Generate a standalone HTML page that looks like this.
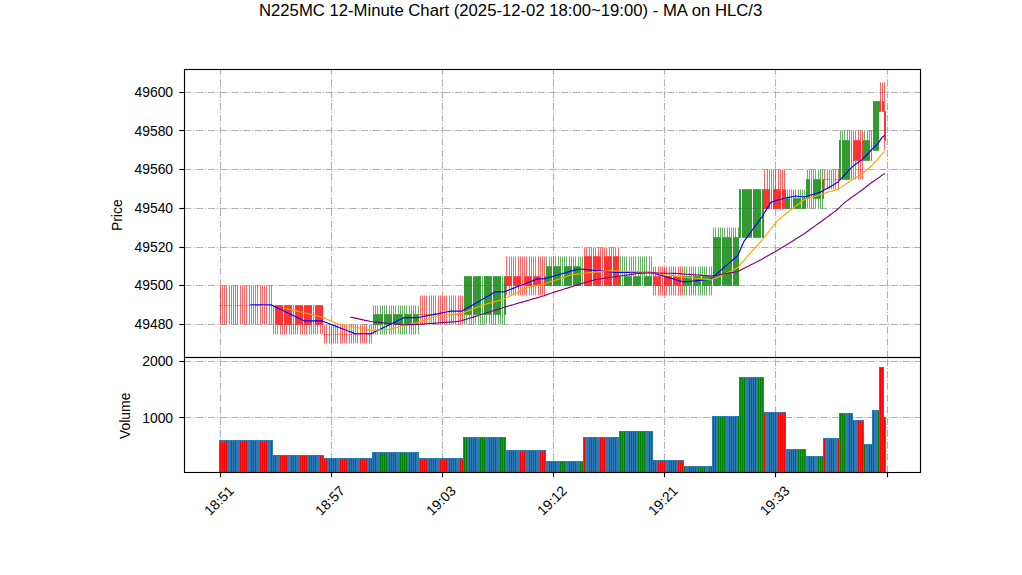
<!DOCTYPE html>
<html lang="en"><head><meta charset="utf-8"><title>N225MC 12-Minute Chart</title>
<style>html,body{margin:0;padding:0;background:#fff;overflow:hidden;font-family:"Liberation Sans",sans-serif;}svg{display:block;}</style></head>
<body><svg width="1022" height="575" viewBox="0 0 1022 575" role="img" aria-label="N225MC 12-Minute candlestick chart with moving averages and volume">
<rect width="1022" height="575" fill="#fff"/>
<line x1="184.3" y1="92.5" x2="920" y2="92.5" stroke="#b0b0b0" stroke-width="1.11" stroke-dasharray="7.111 1.778 1.111 1.778"/>
<line x1="184.3" y1="130.5" x2="920" y2="130.5" stroke="#b0b0b0" stroke-width="1.11" stroke-dasharray="7.111 1.778 1.111 1.778"/>
<line x1="184.3" y1="169.5" x2="920" y2="169.5" stroke="#b0b0b0" stroke-width="1.11" stroke-dasharray="7.111 1.778 1.111 1.778"/>
<line x1="184.3" y1="208.5" x2="920" y2="208.5" stroke="#b0b0b0" stroke-width="1.11" stroke-dasharray="7.111 1.778 1.111 1.778"/>
<line x1="184.3" y1="247.5" x2="920" y2="247.5" stroke="#b0b0b0" stroke-width="1.11" stroke-dasharray="7.111 1.778 1.111 1.778"/>
<line x1="184.3" y1="285.5" x2="920" y2="285.5" stroke="#b0b0b0" stroke-width="1.11" stroke-dasharray="7.111 1.778 1.111 1.778"/>
<line x1="184.3" y1="324.5" x2="920" y2="324.5" stroke="#b0b0b0" stroke-width="1.11" stroke-dasharray="7.111 1.778 1.111 1.778"/>
<line x1="220.5" y1="357.3" x2="220.5" y2="69.5" stroke="#b0b0b0" stroke-width="1.11" stroke-dasharray="7.111 1.778 1.111 1.778"/>
<line x1="331.5" y1="357.3" x2="331.5" y2="69.5" stroke="#b0b0b0" stroke-width="1.11" stroke-dasharray="7.111 1.778 1.111 1.778"/>
<line x1="442.5" y1="357.3" x2="442.5" y2="69.5" stroke="#b0b0b0" stroke-width="1.11" stroke-dasharray="7.111 1.778 1.111 1.778"/>
<line x1="553.5" y1="357.3" x2="553.5" y2="69.5" stroke="#b0b0b0" stroke-width="1.11" stroke-dasharray="7.111 1.778 1.111 1.778"/>
<line x1="664.5" y1="357.3" x2="664.5" y2="69.5" stroke="#b0b0b0" stroke-width="1.11" stroke-dasharray="7.111 1.778 1.111 1.778"/>
<line x1="775.5" y1="357.3" x2="775.5" y2="69.5" stroke="#b0b0b0" stroke-width="1.11" stroke-dasharray="7.111 1.778 1.111 1.778"/>
<line x1="887.5" y1="357.3" x2="887.5" y2="69.5" stroke="#b0b0b0" stroke-width="1.11" stroke-dasharray="7.111 1.778 1.111 1.778"/>
<line x1="184.3" y1="361.5" x2="920" y2="361.5" stroke="#b0b0b0" stroke-width="1.11" stroke-dasharray="7.111 1.778 1.111 1.778"/>
<line x1="184.3" y1="417.5" x2="920" y2="417.5" stroke="#b0b0b0" stroke-width="1.11" stroke-dasharray="7.111 1.778 1.111 1.778"/>
<line x1="220.5" y1="472.3" x2="220.5" y2="357.5" stroke="#b0b0b0" stroke-width="1.11" stroke-dasharray="7.111 1.778 1.111 1.778"/>
<line x1="331.5" y1="472.3" x2="331.5" y2="357.5" stroke="#b0b0b0" stroke-width="1.11" stroke-dasharray="7.111 1.778 1.111 1.778"/>
<line x1="442.5" y1="472.3" x2="442.5" y2="357.5" stroke="#b0b0b0" stroke-width="1.11" stroke-dasharray="7.111 1.778 1.111 1.778"/>
<line x1="553.5" y1="472.3" x2="553.5" y2="357.5" stroke="#b0b0b0" stroke-width="1.11" stroke-dasharray="7.111 1.778 1.111 1.778"/>
<line x1="664.5" y1="472.3" x2="664.5" y2="357.5" stroke="#b0b0b0" stroke-width="1.11" stroke-dasharray="7.111 1.778 1.111 1.778"/>
<line x1="775.5" y1="472.3" x2="775.5" y2="357.5" stroke="#b0b0b0" stroke-width="1.11" stroke-dasharray="7.111 1.778 1.111 1.778"/>
<line x1="887.5" y1="472.3" x2="887.5" y2="357.5" stroke="#b0b0b0" stroke-width="1.11" stroke-dasharray="7.111 1.778 1.111 1.778"/>
<g>
<rect x="220" y="285.50" width="1" height="39.00" fill="rgba(255,0,0,0.6)"/>
<rect x="219" y="305.15" width="2" height="0.7" fill="rgba(255,0,0,0.55)"/>
<rect x="222" y="285.50" width="1" height="39.00" fill="rgba(255,0,0,0.6)"/>
<rect x="221" y="305.15" width="2" height="0.7" fill="rgba(255,0,0,0.55)"/>
<rect x="224" y="285.50" width="1" height="39.00" fill="rgba(255,0,0,0.6)"/>
<rect x="224" y="305.15" width="2" height="0.7" fill="rgba(255,0,0,0.55)"/>
<rect x="226" y="285.50" width="1" height="39.00" fill="rgba(255,0,0,0.6)"/>
<rect x="226" y="305.15" width="2" height="0.7" fill="rgba(255,0,0,0.55)"/>
<rect x="229" y="285.50" width="1" height="39.00" fill="rgba(255,0,0,0.6)"/>
<rect x="228" y="305.15" width="2" height="0.7" fill="rgba(255,0,0,0.55)"/>
<rect x="231" y="285.50" width="1" height="39.00" fill="rgba(255,0,0,0.6)"/>
<rect x="230" y="305.15" width="2" height="0.7" fill="rgba(255,0,0,0.55)"/>
<rect x="233" y="285.50" width="1" height="39.00" fill="rgba(255,0,0,0.6)"/>
<rect x="233" y="305.15" width="1" height="0.7" fill="rgba(255,0,0,0.55)"/>
<rect x="235" y="285.50" width="1" height="39.00" fill="rgba(255,0,0,0.6)"/>
<rect x="235" y="305.15" width="2" height="0.7" fill="rgba(255,0,0,0.55)"/>
<rect x="237" y="285.50" width="1" height="39.00" fill="rgba(255,0,0,0.6)"/>
<rect x="237" y="305.15" width="2" height="0.7" fill="rgba(255,0,0,0.55)"/>
<rect x="240" y="285.50" width="1" height="39.00" fill="rgba(255,0,0,0.6)"/>
<rect x="239" y="305.15" width="2" height="0.7" fill="rgba(255,0,0,0.55)"/>
<rect x="242" y="285.50" width="1" height="39.00" fill="rgba(255,0,0,0.6)"/>
<rect x="241" y="305.15" width="2" height="0.7" fill="rgba(255,0,0,0.55)"/>
<rect x="244" y="285.50" width="1" height="39.00" fill="rgba(255,0,0,0.6)"/>
<rect x="244" y="305.15" width="2" height="0.7" fill="rgba(255,0,0,0.55)"/>
<rect x="246" y="285.50" width="1" height="39.00" fill="rgba(255,0,0,0.6)"/>
<rect x="246" y="305.15" width="2" height="0.7" fill="rgba(255,0,0,0.55)"/>
<rect x="249" y="285.50" width="1" height="39.00" fill="rgba(255,0,0,0.6)"/>
<rect x="248" y="305.15" width="2" height="0.7" fill="rgba(255,0,0,0.55)"/>
<rect x="251" y="285.50" width="1" height="39.00" fill="rgba(255,0,0,0.6)"/>
<rect x="250" y="305.15" width="2" height="0.7" fill="rgba(255,0,0,0.55)"/>
<rect x="253" y="285.50" width="1" height="39.00" fill="rgba(255,0,0,0.6)"/>
<rect x="253" y="305.15" width="1" height="0.7" fill="rgba(255,0,0,0.55)"/>
<rect x="255" y="285.50" width="1" height="39.00" fill="rgba(255,0,0,0.6)"/>
<rect x="255" y="305.15" width="2" height="0.7" fill="rgba(255,0,0,0.55)"/>
<rect x="257" y="285.50" width="1" height="39.00" fill="rgba(255,0,0,0.6)"/>
<rect x="257" y="305.15" width="2" height="0.7" fill="rgba(255,0,0,0.55)"/>
<rect x="260" y="285.50" width="1" height="39.00" fill="rgba(255,0,0,0.6)"/>
<rect x="259" y="305.15" width="2" height="0.7" fill="rgba(255,0,0,0.55)"/>
<rect x="262" y="285.50" width="1" height="39.00" fill="rgba(255,0,0,0.6)"/>
<rect x="261" y="305.15" width="2" height="0.7" fill="rgba(255,0,0,0.55)"/>
<rect x="264" y="285.50" width="1" height="39.00" fill="rgba(255,0,0,0.6)"/>
<rect x="264" y="305.15" width="2" height="0.7" fill="rgba(255,0,0,0.55)"/>
<rect x="266" y="285.50" width="1" height="39.00" fill="rgba(255,0,0,0.6)"/>
<rect x="266" y="305.15" width="2" height="0.7" fill="rgba(255,0,0,0.55)"/>
<rect x="269" y="285.50" width="1" height="39.00" fill="rgba(255,0,0,0.6)"/>
<rect x="268" y="305.15" width="2" height="0.7" fill="rgba(255,0,0,0.55)"/>
<rect x="271" y="285.50" width="1" height="39.00" fill="rgba(255,0,0,0.6)"/>
<rect x="270" y="305.15" width="2" height="0.7" fill="rgba(255,0,0,0.55)"/>
<rect x="273" y="324.85" width="1" height="9.65" fill="rgba(255,0,0,0.6)"/>
<rect x="273" y="305.15" width="1" height="19.70" fill="rgba(255,0,0,0.65)"/>
<rect x="275" y="324.85" width="1" height="9.65" fill="rgba(255,0,0,0.6)"/>
<rect x="275" y="305.15" width="2" height="19.70" fill="rgba(255,0,0,0.8)"/>
<rect x="277" y="324.85" width="1" height="9.65" fill="rgba(255,0,0,0.6)"/>
<rect x="277" y="305.15" width="2" height="19.70" fill="rgba(255,0,0,0.8)"/>
<rect x="280" y="324.85" width="1" height="9.65" fill="rgba(255,0,0,0.6)"/>
<rect x="279" y="305.15" width="2" height="19.70" fill="rgba(255,0,0,0.8)"/>
<rect x="282" y="324.85" width="1" height="9.65" fill="rgba(255,0,0,0.6)"/>
<rect x="281" y="305.15" width="2" height="19.70" fill="rgba(255,0,0,0.8)"/>
<rect x="284" y="324.85" width="1" height="9.65" fill="rgba(255,0,0,0.6)"/>
<rect x="284" y="305.15" width="2" height="19.70" fill="rgba(255,0,0,0.8)"/>
<rect x="286" y="324.85" width="1" height="9.65" fill="rgba(255,0,0,0.6)"/>
<rect x="286" y="305.15" width="2" height="19.70" fill="rgba(255,0,0,0.8)"/>
<rect x="289" y="324.85" width="1" height="9.65" fill="rgba(255,0,0,0.6)"/>
<rect x="288" y="305.15" width="2" height="19.70" fill="rgba(255,0,0,0.8)"/>
<rect x="291" y="324.85" width="1" height="9.65" fill="rgba(255,0,0,0.6)"/>
<rect x="290" y="305.15" width="2" height="19.70" fill="rgba(255,0,0,0.8)"/>
<rect x="293" y="324.85" width="1" height="9.65" fill="rgba(255,0,0,0.6)"/>
<rect x="293" y="305.15" width="1" height="19.70" fill="rgba(255,0,0,0.65)"/>
<rect x="295" y="324.85" width="1" height="9.65" fill="rgba(255,0,0,0.6)"/>
<rect x="295" y="305.15" width="2" height="19.70" fill="rgba(255,0,0,0.8)"/>
<rect x="297" y="324.85" width="1" height="9.65" fill="rgba(255,0,0,0.6)"/>
<rect x="297" y="305.15" width="2" height="19.70" fill="rgba(255,0,0,0.8)"/>
<rect x="300" y="324.85" width="1" height="9.65" fill="rgba(255,0,0,0.6)"/>
<rect x="299" y="305.15" width="2" height="19.70" fill="rgba(255,0,0,0.8)"/>
<rect x="302" y="324.85" width="1" height="9.65" fill="rgba(255,0,0,0.6)"/>
<rect x="301" y="305.15" width="2" height="19.70" fill="rgba(255,0,0,0.8)"/>
<rect x="304" y="324.85" width="1" height="9.65" fill="rgba(255,0,0,0.6)"/>
<rect x="304" y="305.15" width="2" height="19.70" fill="rgba(255,0,0,0.8)"/>
<rect x="306" y="324.85" width="1" height="9.65" fill="rgba(255,0,0,0.6)"/>
<rect x="306" y="305.15" width="2" height="19.70" fill="rgba(255,0,0,0.8)"/>
<rect x="309" y="324.85" width="1" height="9.65" fill="rgba(255,0,0,0.6)"/>
<rect x="308" y="305.15" width="2" height="19.70" fill="rgba(255,0,0,0.8)"/>
<rect x="311" y="324.85" width="1" height="9.65" fill="rgba(255,0,0,0.6)"/>
<rect x="310" y="305.15" width="2" height="19.70" fill="rgba(255,0,0,0.8)"/>
<rect x="313" y="324.85" width="1" height="9.65" fill="rgba(255,0,0,0.6)"/>
<rect x="313" y="305.15" width="1" height="19.70" fill="rgba(255,0,0,0.65)"/>
<rect x="315" y="324.85" width="1" height="9.65" fill="rgba(255,0,0,0.6)"/>
<rect x="315" y="305.15" width="2" height="19.70" fill="rgba(255,0,0,0.8)"/>
<rect x="317" y="324.85" width="1" height="9.65" fill="rgba(255,0,0,0.6)"/>
<rect x="317" y="305.15" width="2" height="19.70" fill="rgba(255,0,0,0.8)"/>
<rect x="320" y="324.85" width="1" height="9.65" fill="rgba(255,0,0,0.6)"/>
<rect x="319" y="305.15" width="2" height="19.70" fill="rgba(255,0,0,0.8)"/>
<rect x="322" y="324.85" width="1" height="9.65" fill="rgba(255,0,0,0.6)"/>
<rect x="321" y="305.15" width="2" height="19.70" fill="rgba(255,0,0,0.8)"/>
<rect x="324" y="324.50" width="1" height="19.00" fill="rgba(255,0,0,0.6)"/>
<rect x="324" y="334.15" width="2" height="0.7" fill="rgba(255,0,0,0.55)"/>
<rect x="326" y="324.50" width="1" height="19.00" fill="rgba(255,0,0,0.6)"/>
<rect x="326" y="334.15" width="2" height="0.7" fill="rgba(255,0,0,0.55)"/>
<rect x="329" y="324.50" width="1" height="19.00" fill="rgba(255,0,0,0.6)"/>
<rect x="328" y="334.15" width="2" height="0.7" fill="rgba(255,0,0,0.55)"/>
<rect x="331" y="324.50" width="1" height="19.00" fill="rgba(255,0,0,0.6)"/>
<rect x="330" y="334.15" width="2" height="0.7" fill="rgba(255,0,0,0.55)"/>
<rect x="333" y="324.50" width="1" height="19.00" fill="rgba(255,0,0,0.6)"/>
<rect x="333" y="334.15" width="1" height="0.7" fill="rgba(255,0,0,0.55)"/>
<rect x="335" y="324.50" width="1" height="19.00" fill="rgba(255,0,0,0.6)"/>
<rect x="335" y="334.15" width="2" height="0.7" fill="rgba(255,0,0,0.55)"/>
<rect x="337" y="324.50" width="1" height="19.00" fill="rgba(255,0,0,0.6)"/>
<rect x="337" y="334.15" width="2" height="0.7" fill="rgba(255,0,0,0.55)"/>
<rect x="340" y="324.50" width="1" height="19.00" fill="rgba(255,0,0,0.6)"/>
<rect x="339" y="334.15" width="2" height="0.7" fill="rgba(255,0,0,0.55)"/>
<rect x="342" y="324.50" width="1" height="19.00" fill="rgba(255,0,0,0.6)"/>
<rect x="341" y="334.15" width="2" height="0.7" fill="rgba(255,0,0,0.55)"/>
<rect x="344" y="324.50" width="1" height="19.00" fill="rgba(255,0,0,0.6)"/>
<rect x="344" y="334.15" width="2" height="0.7" fill="rgba(255,0,0,0.55)"/>
<rect x="346" y="324.50" width="1" height="19.00" fill="rgba(255,0,0,0.6)"/>
<rect x="346" y="334.15" width="2" height="0.7" fill="rgba(255,0,0,0.55)"/>
<rect x="349" y="324.50" width="1" height="19.00" fill="rgba(255,0,0,0.6)"/>
<rect x="348" y="334.15" width="2" height="0.7" fill="rgba(255,0,0,0.55)"/>
<rect x="351" y="324.50" width="1" height="19.00" fill="rgba(255,0,0,0.6)"/>
<rect x="350" y="334.15" width="2" height="0.7" fill="rgba(255,0,0,0.55)"/>
<rect x="353" y="324.50" width="1" height="19.00" fill="rgba(255,0,0,0.6)"/>
<rect x="353" y="334.15" width="2" height="0.7" fill="rgba(255,0,0,0.55)"/>
<rect x="355" y="324.50" width="1" height="19.00" fill="rgba(255,0,0,0.6)"/>
<rect x="355" y="334.15" width="2" height="0.7" fill="rgba(255,0,0,0.55)"/>
<rect x="357" y="324.50" width="1" height="19.00" fill="rgba(255,0,0,0.6)"/>
<rect x="357" y="334.15" width="2" height="0.7" fill="rgba(255,0,0,0.55)"/>
<rect x="360" y="324.50" width="1" height="19.00" fill="rgba(255,0,0,0.6)"/>
<rect x="359" y="334.15" width="2" height="0.7" fill="rgba(255,0,0,0.55)"/>
<rect x="362" y="324.50" width="1" height="19.00" fill="rgba(255,0,0,0.6)"/>
<rect x="361" y="334.15" width="2" height="0.7" fill="rgba(255,0,0,0.55)"/>
<rect x="364" y="324.50" width="1" height="19.00" fill="rgba(255,0,0,0.6)"/>
<rect x="364" y="334.15" width="2" height="0.7" fill="rgba(255,0,0,0.55)"/>
<rect x="366" y="324.50" width="1" height="19.00" fill="rgba(255,0,0,0.6)"/>
<rect x="366" y="334.15" width="2" height="0.7" fill="rgba(255,0,0,0.55)"/>
<rect x="369" y="324.50" width="1" height="19.00" fill="rgba(255,0,0,0.6)"/>
<rect x="368" y="334.15" width="2" height="0.7" fill="rgba(255,0,0,0.55)"/>
<rect x="371" y="324.50" width="1" height="19.00" fill="rgba(255,0,0,0.6)"/>
<rect x="370" y="334.15" width="2" height="0.7" fill="rgba(255,0,0,0.55)"/>
<rect x="373" y="305.50" width="1" height="8.65" fill="rgba(0,128,0,0.6)"/>
<rect x="373" y="324.85" width="1" height="9.65" fill="rgba(0,128,0,0.6)"/>
<rect x="373" y="314.15" width="2" height="10.70" fill="rgba(0,128,0,0.8)"/>
<rect x="375" y="305.50" width="1" height="8.65" fill="rgba(0,128,0,0.6)"/>
<rect x="375" y="324.85" width="1" height="9.65" fill="rgba(0,128,0,0.6)"/>
<rect x="375" y="314.15" width="2" height="10.70" fill="rgba(0,128,0,0.8)"/>
<rect x="377" y="305.50" width="1" height="8.65" fill="rgba(0,128,0,0.6)"/>
<rect x="377" y="324.85" width="1" height="9.65" fill="rgba(0,128,0,0.6)"/>
<rect x="377" y="314.15" width="2" height="10.70" fill="rgba(0,128,0,0.8)"/>
<rect x="380" y="305.50" width="1" height="8.65" fill="rgba(0,128,0,0.6)"/>
<rect x="380" y="324.85" width="1" height="9.65" fill="rgba(0,128,0,0.6)"/>
<rect x="379" y="314.15" width="2" height="10.70" fill="rgba(0,128,0,0.8)"/>
<rect x="382" y="305.50" width="1" height="8.65" fill="rgba(0,128,0,0.6)"/>
<rect x="382" y="324.85" width="1" height="9.65" fill="rgba(0,128,0,0.6)"/>
<rect x="381" y="314.15" width="2" height="10.70" fill="rgba(0,128,0,0.8)"/>
<rect x="384" y="305.50" width="1" height="8.65" fill="rgba(0,128,0,0.6)"/>
<rect x="384" y="324.85" width="1" height="9.65" fill="rgba(0,128,0,0.6)"/>
<rect x="384" y="314.15" width="2" height="10.70" fill="rgba(0,128,0,0.8)"/>
<rect x="386" y="305.50" width="1" height="8.65" fill="rgba(0,128,0,0.6)"/>
<rect x="386" y="324.85" width="1" height="9.65" fill="rgba(0,128,0,0.6)"/>
<rect x="386" y="314.15" width="2" height="10.70" fill="rgba(0,128,0,0.8)"/>
<rect x="389" y="305.50" width="1" height="8.65" fill="rgba(0,128,0,0.6)"/>
<rect x="389" y="324.85" width="1" height="9.65" fill="rgba(0,128,0,0.6)"/>
<rect x="388" y="314.15" width="2" height="10.70" fill="rgba(0,128,0,0.8)"/>
<rect x="391" y="305.50" width="1" height="8.65" fill="rgba(0,128,0,0.6)"/>
<rect x="391" y="324.85" width="1" height="9.65" fill="rgba(0,128,0,0.6)"/>
<rect x="390" y="314.15" width="2" height="10.70" fill="rgba(0,128,0,0.8)"/>
<rect x="393" y="305.50" width="1" height="8.65" fill="rgba(0,128,0,0.6)"/>
<rect x="393" y="324.85" width="1" height="9.65" fill="rgba(0,128,0,0.6)"/>
<rect x="393" y="314.15" width="2" height="10.70" fill="rgba(0,128,0,0.8)"/>
<rect x="395" y="305.50" width="1" height="8.65" fill="rgba(0,128,0,0.6)"/>
<rect x="395" y="324.85" width="1" height="9.65" fill="rgba(0,128,0,0.6)"/>
<rect x="395" y="314.15" width="2" height="10.70" fill="rgba(0,128,0,0.8)"/>
<rect x="398" y="305.50" width="1" height="8.65" fill="rgba(0,128,0,0.6)"/>
<rect x="398" y="324.85" width="1" height="9.65" fill="rgba(0,128,0,0.6)"/>
<rect x="397" y="314.15" width="2" height="10.70" fill="rgba(0,128,0,0.8)"/>
<rect x="400" y="305.50" width="1" height="8.65" fill="rgba(0,128,0,0.6)"/>
<rect x="400" y="324.85" width="1" height="9.65" fill="rgba(0,128,0,0.6)"/>
<rect x="399" y="314.15" width="2" height="10.70" fill="rgba(0,128,0,0.8)"/>
<rect x="402" y="305.50" width="1" height="8.65" fill="rgba(0,128,0,0.6)"/>
<rect x="402" y="324.85" width="1" height="9.65" fill="rgba(0,128,0,0.6)"/>
<rect x="401" y="314.15" width="2" height="10.70" fill="rgba(0,128,0,0.8)"/>
<rect x="404" y="305.50" width="1" height="8.65" fill="rgba(0,128,0,0.6)"/>
<rect x="404" y="324.85" width="1" height="9.65" fill="rgba(0,128,0,0.6)"/>
<rect x="404" y="314.15" width="2" height="10.70" fill="rgba(0,128,0,0.8)"/>
<rect x="406" y="305.50" width="1" height="8.65" fill="rgba(0,128,0,0.6)"/>
<rect x="406" y="324.85" width="1" height="9.65" fill="rgba(0,128,0,0.6)"/>
<rect x="406" y="314.15" width="2" height="10.70" fill="rgba(0,128,0,0.8)"/>
<rect x="409" y="305.50" width="1" height="8.65" fill="rgba(0,128,0,0.6)"/>
<rect x="409" y="324.85" width="1" height="9.65" fill="rgba(0,128,0,0.6)"/>
<rect x="408" y="314.15" width="2" height="10.70" fill="rgba(0,128,0,0.8)"/>
<rect x="411" y="305.50" width="1" height="8.65" fill="rgba(0,128,0,0.6)"/>
<rect x="411" y="324.85" width="1" height="9.65" fill="rgba(0,128,0,0.6)"/>
<rect x="410" y="314.15" width="2" height="10.70" fill="rgba(0,128,0,0.8)"/>
<rect x="413" y="305.50" width="1" height="8.65" fill="rgba(0,128,0,0.6)"/>
<rect x="413" y="324.85" width="1" height="9.65" fill="rgba(0,128,0,0.6)"/>
<rect x="413" y="314.15" width="2" height="10.70" fill="rgba(0,128,0,0.8)"/>
<rect x="415" y="305.50" width="1" height="8.65" fill="rgba(0,128,0,0.6)"/>
<rect x="415" y="324.85" width="1" height="9.65" fill="rgba(0,128,0,0.6)"/>
<rect x="415" y="314.15" width="2" height="10.70" fill="rgba(0,128,0,0.8)"/>
<rect x="418" y="305.50" width="1" height="8.65" fill="rgba(0,128,0,0.6)"/>
<rect x="418" y="324.85" width="1" height="9.65" fill="rgba(0,128,0,0.6)"/>
<rect x="417" y="314.15" width="2" height="10.70" fill="rgba(0,128,0,0.8)"/>
<rect x="420" y="295.50" width="1" height="29.00" fill="rgba(255,0,0,0.6)"/>
<rect x="419" y="314.15" width="2" height="0.7" fill="rgba(255,0,0,0.55)"/>
<rect x="422" y="295.50" width="1" height="29.00" fill="rgba(255,0,0,0.6)"/>
<rect x="421" y="314.15" width="2" height="0.7" fill="rgba(255,0,0,0.55)"/>
<rect x="424" y="295.50" width="1" height="29.00" fill="rgba(255,0,0,0.6)"/>
<rect x="424" y="314.15" width="2" height="0.7" fill="rgba(255,0,0,0.55)"/>
<rect x="426" y="295.50" width="1" height="29.00" fill="rgba(255,0,0,0.6)"/>
<rect x="426" y="314.15" width="2" height="0.7" fill="rgba(255,0,0,0.55)"/>
<rect x="429" y="295.50" width="1" height="29.00" fill="rgba(255,0,0,0.6)"/>
<rect x="428" y="314.15" width="2" height="0.7" fill="rgba(255,0,0,0.55)"/>
<rect x="431" y="295.50" width="1" height="29.00" fill="rgba(255,0,0,0.6)"/>
<rect x="430" y="314.15" width="2" height="0.7" fill="rgba(255,0,0,0.55)"/>
<rect x="433" y="295.50" width="1" height="29.00" fill="rgba(255,0,0,0.6)"/>
<rect x="433" y="314.15" width="2" height="0.7" fill="rgba(255,0,0,0.55)"/>
<rect x="435" y="295.50" width="1" height="29.00" fill="rgba(255,0,0,0.6)"/>
<rect x="435" y="314.15" width="2" height="0.7" fill="rgba(255,0,0,0.55)"/>
<rect x="438" y="295.50" width="1" height="29.00" fill="rgba(255,0,0,0.6)"/>
<rect x="437" y="314.15" width="2" height="0.7" fill="rgba(255,0,0,0.55)"/>
<rect x="440" y="295.50" width="1" height="29.00" fill="rgba(255,0,0,0.6)"/>
<rect x="439" y="314.15" width="2" height="0.7" fill="rgba(255,0,0,0.55)"/>
<rect x="442" y="295.50" width="1" height="29.00" fill="rgba(255,0,0,0.6)"/>
<rect x="442" y="314.15" width="1" height="0.7" fill="rgba(255,0,0,0.55)"/>
<rect x="444" y="295.50" width="1" height="29.00" fill="rgba(255,0,0,0.6)"/>
<rect x="444" y="314.15" width="2" height="0.7" fill="rgba(255,0,0,0.55)"/>
<rect x="446" y="295.50" width="1" height="29.00" fill="rgba(255,0,0,0.6)"/>
<rect x="446" y="314.15" width="2" height="0.7" fill="rgba(255,0,0,0.55)"/>
<rect x="449" y="295.50" width="1" height="29.00" fill="rgba(255,0,0,0.6)"/>
<rect x="448" y="314.15" width="2" height="0.7" fill="rgba(255,0,0,0.55)"/>
<rect x="451" y="295.50" width="1" height="29.00" fill="rgba(255,0,0,0.6)"/>
<rect x="450" y="314.15" width="2" height="0.7" fill="rgba(255,0,0,0.55)"/>
<rect x="453" y="295.50" width="1" height="29.00" fill="rgba(255,0,0,0.6)"/>
<rect x="453" y="314.15" width="2" height="0.7" fill="rgba(255,0,0,0.55)"/>
<rect x="455" y="295.50" width="1" height="29.00" fill="rgba(255,0,0,0.6)"/>
<rect x="455" y="314.15" width="2" height="0.7" fill="rgba(255,0,0,0.55)"/>
<rect x="458" y="295.50" width="1" height="29.00" fill="rgba(255,0,0,0.6)"/>
<rect x="457" y="314.15" width="2" height="0.7" fill="rgba(255,0,0,0.55)"/>
<rect x="460" y="295.50" width="1" height="29.00" fill="rgba(255,0,0,0.6)"/>
<rect x="459" y="314.15" width="2" height="0.7" fill="rgba(255,0,0,0.55)"/>
<rect x="462" y="295.50" width="1" height="29.00" fill="rgba(255,0,0,0.6)"/>
<rect x="462" y="314.15" width="1" height="0.7" fill="rgba(255,0,0,0.55)"/>
<rect x="464" y="314.85" width="1" height="9.65" fill="rgba(0,128,0,0.6)"/>
<rect x="464" y="276.15" width="2" height="38.70" fill="rgba(0,128,0,0.8)"/>
<rect x="466" y="314.85" width="1" height="9.65" fill="rgba(0,128,0,0.6)"/>
<rect x="466" y="276.15" width="2" height="38.70" fill="rgba(0,128,0,0.8)"/>
<rect x="469" y="314.85" width="1" height="9.65" fill="rgba(0,128,0,0.6)"/>
<rect x="468" y="276.15" width="2" height="38.70" fill="rgba(0,128,0,0.8)"/>
<rect x="471" y="314.85" width="1" height="9.65" fill="rgba(0,128,0,0.6)"/>
<rect x="470" y="276.15" width="2" height="38.70" fill="rgba(0,128,0,0.8)"/>
<rect x="473" y="314.85" width="1" height="9.65" fill="rgba(0,128,0,0.6)"/>
<rect x="473" y="276.15" width="2" height="38.70" fill="rgba(0,128,0,0.8)"/>
<rect x="475" y="314.85" width="1" height="9.65" fill="rgba(0,128,0,0.6)"/>
<rect x="475" y="276.15" width="2" height="38.70" fill="rgba(0,128,0,0.8)"/>
<rect x="478" y="314.85" width="1" height="9.65" fill="rgba(0,128,0,0.6)"/>
<rect x="477" y="276.15" width="2" height="38.70" fill="rgba(0,128,0,0.8)"/>
<rect x="480" y="314.85" width="1" height="9.65" fill="rgba(0,128,0,0.6)"/>
<rect x="479" y="276.15" width="2" height="38.70" fill="rgba(0,128,0,0.8)"/>
<rect x="482" y="314.85" width="1" height="9.65" fill="rgba(0,128,0,0.6)"/>
<rect x="482" y="276.15" width="1" height="38.70" fill="rgba(0,128,0,0.65)"/>
<rect x="484" y="314.85" width="1" height="9.65" fill="rgba(0,128,0,0.6)"/>
<rect x="484" y="276.15" width="2" height="38.70" fill="rgba(0,128,0,0.8)"/>
<rect x="486" y="314.85" width="1" height="9.65" fill="rgba(0,128,0,0.6)"/>
<rect x="486" y="276.15" width="2" height="38.70" fill="rgba(0,128,0,0.8)"/>
<rect x="489" y="314.85" width="1" height="9.65" fill="rgba(0,128,0,0.6)"/>
<rect x="488" y="276.15" width="2" height="38.70" fill="rgba(0,128,0,0.8)"/>
<rect x="491" y="314.85" width="1" height="9.65" fill="rgba(0,128,0,0.6)"/>
<rect x="490" y="276.15" width="2" height="38.70" fill="rgba(0,128,0,0.8)"/>
<rect x="493" y="314.85" width="1" height="9.65" fill="rgba(0,128,0,0.6)"/>
<rect x="493" y="276.15" width="2" height="38.70" fill="rgba(0,128,0,0.8)"/>
<rect x="495" y="314.85" width="1" height="9.65" fill="rgba(0,128,0,0.6)"/>
<rect x="495" y="276.15" width="2" height="38.70" fill="rgba(0,128,0,0.8)"/>
<rect x="498" y="314.85" width="1" height="9.65" fill="rgba(0,128,0,0.6)"/>
<rect x="497" y="276.15" width="2" height="38.70" fill="rgba(0,128,0,0.8)"/>
<rect x="500" y="314.85" width="1" height="9.65" fill="rgba(0,128,0,0.6)"/>
<rect x="499" y="276.15" width="2" height="38.70" fill="rgba(0,128,0,0.8)"/>
<rect x="502" y="314.85" width="1" height="9.65" fill="rgba(0,128,0,0.6)"/>
<rect x="502" y="276.15" width="1" height="38.70" fill="rgba(0,128,0,0.65)"/>
<rect x="504" y="314.85" width="1" height="9.65" fill="rgba(0,128,0,0.6)"/>
<rect x="504" y="276.15" width="2" height="38.70" fill="rgba(0,128,0,0.8)"/>
<rect x="506" y="256.50" width="1" height="19.65" fill="rgba(255,0,0,0.6)"/>
<rect x="506" y="285.85" width="1" height="9.65" fill="rgba(255,0,0,0.6)"/>
<rect x="506" y="276.15" width="2" height="9.70" fill="rgba(255,0,0,0.8)"/>
<rect x="509" y="256.50" width="1" height="19.65" fill="rgba(255,0,0,0.6)"/>
<rect x="509" y="285.85" width="1" height="9.65" fill="rgba(255,0,0,0.6)"/>
<rect x="508" y="276.15" width="2" height="9.70" fill="rgba(255,0,0,0.8)"/>
<rect x="511" y="256.50" width="1" height="19.65" fill="rgba(255,0,0,0.6)"/>
<rect x="511" y="285.85" width="1" height="9.65" fill="rgba(255,0,0,0.6)"/>
<rect x="510" y="276.15" width="2" height="9.70" fill="rgba(255,0,0,0.8)"/>
<rect x="513" y="256.50" width="1" height="19.65" fill="rgba(255,0,0,0.6)"/>
<rect x="513" y="285.85" width="1" height="9.65" fill="rgba(255,0,0,0.6)"/>
<rect x="513" y="276.15" width="2" height="9.70" fill="rgba(255,0,0,0.8)"/>
<rect x="515" y="256.50" width="1" height="19.65" fill="rgba(255,0,0,0.6)"/>
<rect x="515" y="285.85" width="1" height="9.65" fill="rgba(255,0,0,0.6)"/>
<rect x="515" y="276.15" width="2" height="9.70" fill="rgba(255,0,0,0.8)"/>
<rect x="518" y="256.50" width="1" height="19.65" fill="rgba(255,0,0,0.6)"/>
<rect x="518" y="285.85" width="1" height="9.65" fill="rgba(255,0,0,0.6)"/>
<rect x="517" y="276.15" width="2" height="9.70" fill="rgba(255,0,0,0.8)"/>
<rect x="520" y="256.50" width="1" height="19.65" fill="rgba(255,0,0,0.6)"/>
<rect x="520" y="285.85" width="1" height="9.65" fill="rgba(255,0,0,0.6)"/>
<rect x="519" y="276.15" width="2" height="9.70" fill="rgba(255,0,0,0.8)"/>
<rect x="522" y="256.50" width="1" height="19.65" fill="rgba(255,0,0,0.6)"/>
<rect x="522" y="285.85" width="1" height="9.65" fill="rgba(255,0,0,0.6)"/>
<rect x="522" y="276.15" width="1" height="9.70" fill="rgba(255,0,0,0.65)"/>
<rect x="524" y="256.50" width="1" height="19.65" fill="rgba(255,0,0,0.6)"/>
<rect x="524" y="285.85" width="1" height="9.65" fill="rgba(255,0,0,0.6)"/>
<rect x="524" y="276.15" width="2" height="9.70" fill="rgba(255,0,0,0.8)"/>
<rect x="526" y="256.50" width="1" height="19.65" fill="rgba(255,0,0,0.6)"/>
<rect x="526" y="285.85" width="1" height="9.65" fill="rgba(255,0,0,0.6)"/>
<rect x="526" y="276.15" width="2" height="9.70" fill="rgba(255,0,0,0.8)"/>
<rect x="529" y="256.50" width="1" height="19.65" fill="rgba(255,0,0,0.6)"/>
<rect x="529" y="285.85" width="1" height="9.65" fill="rgba(255,0,0,0.6)"/>
<rect x="528" y="276.15" width="2" height="9.70" fill="rgba(255,0,0,0.8)"/>
<rect x="531" y="256.50" width="1" height="19.65" fill="rgba(255,0,0,0.6)"/>
<rect x="531" y="285.85" width="1" height="9.65" fill="rgba(255,0,0,0.6)"/>
<rect x="530" y="276.15" width="2" height="9.70" fill="rgba(255,0,0,0.8)"/>
<rect x="533" y="256.50" width="1" height="19.65" fill="rgba(255,0,0,0.6)"/>
<rect x="533" y="285.85" width="1" height="9.65" fill="rgba(255,0,0,0.6)"/>
<rect x="533" y="276.15" width="2" height="9.70" fill="rgba(255,0,0,0.8)"/>
<rect x="535" y="256.50" width="1" height="19.65" fill="rgba(255,0,0,0.6)"/>
<rect x="535" y="285.85" width="1" height="9.65" fill="rgba(255,0,0,0.6)"/>
<rect x="535" y="276.15" width="2" height="9.70" fill="rgba(255,0,0,0.8)"/>
<rect x="538" y="256.50" width="1" height="19.65" fill="rgba(255,0,0,0.6)"/>
<rect x="538" y="285.85" width="1" height="9.65" fill="rgba(255,0,0,0.6)"/>
<rect x="537" y="276.15" width="2" height="9.70" fill="rgba(255,0,0,0.8)"/>
<rect x="540" y="256.50" width="1" height="19.65" fill="rgba(255,0,0,0.6)"/>
<rect x="540" y="285.85" width="1" height="9.65" fill="rgba(255,0,0,0.6)"/>
<rect x="539" y="276.15" width="2" height="9.70" fill="rgba(255,0,0,0.8)"/>
<rect x="542" y="256.50" width="1" height="19.65" fill="rgba(255,0,0,0.6)"/>
<rect x="542" y="285.85" width="1" height="9.65" fill="rgba(255,0,0,0.6)"/>
<rect x="542" y="276.15" width="1" height="9.70" fill="rgba(255,0,0,0.65)"/>
<rect x="544" y="256.50" width="1" height="19.65" fill="rgba(255,0,0,0.6)"/>
<rect x="544" y="285.85" width="1" height="9.65" fill="rgba(255,0,0,0.6)"/>
<rect x="544" y="276.15" width="2" height="9.70" fill="rgba(255,0,0,0.8)"/>
<rect x="546" y="256.50" width="1" height="9.65" fill="rgba(0,128,0,0.6)"/>
<rect x="546" y="266.15" width="2" height="19.70" fill="rgba(0,128,0,0.8)"/>
<rect x="549" y="256.50" width="1" height="9.65" fill="rgba(0,128,0,0.6)"/>
<rect x="548" y="266.15" width="2" height="19.70" fill="rgba(0,128,0,0.8)"/>
<rect x="551" y="256.50" width="1" height="9.65" fill="rgba(0,128,0,0.6)"/>
<rect x="550" y="266.15" width="2" height="19.70" fill="rgba(0,128,0,0.8)"/>
<rect x="553" y="256.50" width="1" height="9.65" fill="rgba(0,128,0,0.6)"/>
<rect x="553" y="266.15" width="2" height="19.70" fill="rgba(0,128,0,0.8)"/>
<rect x="555" y="256.50" width="1" height="9.65" fill="rgba(0,128,0,0.6)"/>
<rect x="555" y="266.15" width="2" height="19.70" fill="rgba(0,128,0,0.8)"/>
<rect x="558" y="256.50" width="1" height="9.65" fill="rgba(0,128,0,0.6)"/>
<rect x="557" y="266.15" width="2" height="19.70" fill="rgba(0,128,0,0.8)"/>
<rect x="560" y="256.50" width="1" height="9.65" fill="rgba(0,128,0,0.6)"/>
<rect x="559" y="266.15" width="2" height="19.70" fill="rgba(0,128,0,0.8)"/>
<rect x="562" y="256.50" width="1" height="9.65" fill="rgba(0,128,0,0.6)"/>
<rect x="562" y="266.15" width="1" height="19.70" fill="rgba(0,128,0,0.65)"/>
<rect x="564" y="256.50" width="1" height="9.65" fill="rgba(0,128,0,0.6)"/>
<rect x="564" y="266.15" width="2" height="19.70" fill="rgba(0,128,0,0.8)"/>
<rect x="566" y="256.50" width="1" height="9.65" fill="rgba(0,128,0,0.6)"/>
<rect x="566" y="266.15" width="2" height="19.70" fill="rgba(0,128,0,0.8)"/>
<rect x="569" y="256.50" width="1" height="9.65" fill="rgba(0,128,0,0.6)"/>
<rect x="568" y="266.15" width="2" height="19.70" fill="rgba(0,128,0,0.8)"/>
<rect x="571" y="256.50" width="1" height="9.65" fill="rgba(0,128,0,0.6)"/>
<rect x="570" y="266.15" width="2" height="19.70" fill="rgba(0,128,0,0.8)"/>
<rect x="573" y="256.50" width="1" height="9.65" fill="rgba(0,128,0,0.6)"/>
<rect x="573" y="266.15" width="2" height="19.70" fill="rgba(0,128,0,0.8)"/>
<rect x="575" y="256.50" width="1" height="9.65" fill="rgba(0,128,0,0.6)"/>
<rect x="575" y="266.15" width="2" height="19.70" fill="rgba(0,128,0,0.8)"/>
<rect x="578" y="256.50" width="1" height="9.65" fill="rgba(0,128,0,0.6)"/>
<rect x="577" y="266.15" width="2" height="19.70" fill="rgba(0,128,0,0.8)"/>
<rect x="580" y="256.50" width="1" height="9.65" fill="rgba(0,128,0,0.6)"/>
<rect x="579" y="266.15" width="2" height="19.70" fill="rgba(0,128,0,0.8)"/>
<rect x="582" y="256.50" width="1" height="9.65" fill="rgba(0,128,0,0.6)"/>
<rect x="582" y="266.15" width="1" height="19.70" fill="rgba(0,128,0,0.65)"/>
<rect x="584" y="247.50" width="1" height="8.65" fill="rgba(255,0,0,0.6)"/>
<rect x="584" y="256.15" width="2" height="29.70" fill="rgba(255,0,0,0.8)"/>
<rect x="586" y="247.50" width="1" height="8.65" fill="rgba(255,0,0,0.6)"/>
<rect x="586" y="256.15" width="2" height="29.70" fill="rgba(255,0,0,0.8)"/>
<rect x="589" y="247.50" width="1" height="8.65" fill="rgba(255,0,0,0.6)"/>
<rect x="588" y="256.15" width="2" height="29.70" fill="rgba(255,0,0,0.8)"/>
<rect x="591" y="247.50" width="1" height="8.65" fill="rgba(255,0,0,0.6)"/>
<rect x="590" y="256.15" width="2" height="29.70" fill="rgba(255,0,0,0.8)"/>
<rect x="593" y="247.50" width="1" height="8.65" fill="rgba(255,0,0,0.6)"/>
<rect x="593" y="256.15" width="2" height="29.70" fill="rgba(255,0,0,0.8)"/>
<rect x="595" y="247.50" width="1" height="8.65" fill="rgba(255,0,0,0.6)"/>
<rect x="595" y="256.15" width="2" height="29.70" fill="rgba(255,0,0,0.8)"/>
<rect x="598" y="247.50" width="1" height="8.65" fill="rgba(255,0,0,0.6)"/>
<rect x="597" y="256.15" width="2" height="29.70" fill="rgba(255,0,0,0.8)"/>
<rect x="600" y="247.50" width="1" height="8.65" fill="rgba(255,0,0,0.6)"/>
<rect x="599" y="256.15" width="2" height="29.70" fill="rgba(255,0,0,0.8)"/>
<rect x="602" y="247.50" width="1" height="8.65" fill="rgba(255,0,0,0.6)"/>
<rect x="602" y="256.15" width="1" height="29.70" fill="rgba(255,0,0,0.65)"/>
<rect x="604" y="247.50" width="1" height="8.65" fill="rgba(255,0,0,0.6)"/>
<rect x="604" y="256.15" width="2" height="29.70" fill="rgba(255,0,0,0.8)"/>
<rect x="606" y="247.50" width="1" height="8.65" fill="rgba(255,0,0,0.6)"/>
<rect x="606" y="256.15" width="2" height="29.70" fill="rgba(255,0,0,0.8)"/>
<rect x="609" y="247.50" width="1" height="8.65" fill="rgba(255,0,0,0.6)"/>
<rect x="608" y="256.15" width="2" height="29.70" fill="rgba(255,0,0,0.8)"/>
<rect x="611" y="247.50" width="1" height="8.65" fill="rgba(255,0,0,0.6)"/>
<rect x="610" y="256.15" width="2" height="29.70" fill="rgba(255,0,0,0.8)"/>
<rect x="613" y="247.50" width="1" height="8.65" fill="rgba(255,0,0,0.6)"/>
<rect x="613" y="256.15" width="2" height="29.70" fill="rgba(255,0,0,0.8)"/>
<rect x="615" y="247.50" width="1" height="8.65" fill="rgba(255,0,0,0.6)"/>
<rect x="615" y="256.15" width="2" height="29.70" fill="rgba(255,0,0,0.8)"/>
<rect x="618" y="247.50" width="1" height="8.65" fill="rgba(255,0,0,0.6)"/>
<rect x="617" y="256.15" width="2" height="29.70" fill="rgba(255,0,0,0.8)"/>
<rect x="620" y="256.50" width="1" height="19.65" fill="rgba(0,128,0,0.6)"/>
<rect x="619" y="276.15" width="2" height="9.70" fill="rgba(0,128,0,0.8)"/>
<rect x="622" y="256.50" width="1" height="19.65" fill="rgba(0,128,0,0.6)"/>
<rect x="622" y="276.15" width="1" height="9.70" fill="rgba(0,128,0,0.65)"/>
<rect x="624" y="256.50" width="1" height="19.65" fill="rgba(0,128,0,0.6)"/>
<rect x="624" y="276.15" width="2" height="9.70" fill="rgba(0,128,0,0.8)"/>
<rect x="626" y="256.50" width="1" height="19.65" fill="rgba(0,128,0,0.6)"/>
<rect x="626" y="276.15" width="2" height="9.70" fill="rgba(0,128,0,0.8)"/>
<rect x="629" y="256.50" width="1" height="19.65" fill="rgba(0,128,0,0.6)"/>
<rect x="628" y="276.15" width="2" height="9.70" fill="rgba(0,128,0,0.8)"/>
<rect x="631" y="256.50" width="1" height="19.65" fill="rgba(0,128,0,0.6)"/>
<rect x="630" y="276.15" width="2" height="9.70" fill="rgba(0,128,0,0.8)"/>
<rect x="633" y="256.50" width="1" height="19.65" fill="rgba(0,128,0,0.6)"/>
<rect x="633" y="276.15" width="2" height="9.70" fill="rgba(0,128,0,0.8)"/>
<rect x="635" y="256.50" width="1" height="19.65" fill="rgba(0,128,0,0.6)"/>
<rect x="635" y="276.15" width="2" height="9.70" fill="rgba(0,128,0,0.8)"/>
<rect x="638" y="256.50" width="1" height="19.65" fill="rgba(0,128,0,0.6)"/>
<rect x="637" y="276.15" width="2" height="9.70" fill="rgba(0,128,0,0.8)"/>
<rect x="640" y="256.50" width="1" height="19.65" fill="rgba(0,128,0,0.6)"/>
<rect x="639" y="276.15" width="2" height="9.70" fill="rgba(0,128,0,0.8)"/>
<rect x="642" y="256.50" width="1" height="19.65" fill="rgba(0,128,0,0.6)"/>
<rect x="642" y="276.15" width="1" height="9.70" fill="rgba(0,128,0,0.65)"/>
<rect x="644" y="256.50" width="1" height="19.65" fill="rgba(0,128,0,0.6)"/>
<rect x="644" y="276.15" width="2" height="9.70" fill="rgba(0,128,0,0.8)"/>
<rect x="646" y="256.50" width="1" height="19.65" fill="rgba(0,128,0,0.6)"/>
<rect x="646" y="276.15" width="2" height="9.70" fill="rgba(0,128,0,0.8)"/>
<rect x="649" y="256.50" width="1" height="19.65" fill="rgba(0,128,0,0.6)"/>
<rect x="648" y="276.15" width="2" height="9.70" fill="rgba(0,128,0,0.8)"/>
<rect x="651" y="256.50" width="1" height="19.65" fill="rgba(0,128,0,0.6)"/>
<rect x="650" y="276.15" width="2" height="9.70" fill="rgba(0,128,0,0.8)"/>
<rect x="653" y="266.50" width="1" height="9.65" fill="rgba(255,0,0,0.6)"/>
<rect x="653" y="285.85" width="1" height="9.65" fill="rgba(255,0,0,0.6)"/>
<rect x="653" y="276.15" width="2" height="9.70" fill="rgba(255,0,0,0.8)"/>
<rect x="655" y="266.50" width="1" height="9.65" fill="rgba(255,0,0,0.6)"/>
<rect x="655" y="285.85" width="1" height="9.65" fill="rgba(255,0,0,0.6)"/>
<rect x="655" y="276.15" width="2" height="9.70" fill="rgba(255,0,0,0.8)"/>
<rect x="658" y="266.50" width="1" height="9.65" fill="rgba(255,0,0,0.6)"/>
<rect x="658" y="285.85" width="1" height="9.65" fill="rgba(255,0,0,0.6)"/>
<rect x="657" y="276.15" width="2" height="9.70" fill="rgba(255,0,0,0.8)"/>
<rect x="660" y="266.50" width="1" height="9.65" fill="rgba(255,0,0,0.6)"/>
<rect x="660" y="285.85" width="1" height="9.65" fill="rgba(255,0,0,0.6)"/>
<rect x="659" y="276.15" width="2" height="9.70" fill="rgba(255,0,0,0.8)"/>
<rect x="662" y="266.50" width="1" height="9.65" fill="rgba(255,0,0,0.6)"/>
<rect x="662" y="285.85" width="1" height="9.65" fill="rgba(255,0,0,0.6)"/>
<rect x="662" y="276.15" width="1" height="9.70" fill="rgba(255,0,0,0.65)"/>
<rect x="664" y="266.50" width="1" height="9.65" fill="rgba(255,0,0,0.6)"/>
<rect x="664" y="285.85" width="1" height="9.65" fill="rgba(255,0,0,0.6)"/>
<rect x="664" y="276.15" width="2" height="9.70" fill="rgba(255,0,0,0.8)"/>
<rect x="666" y="266.50" width="1" height="9.65" fill="rgba(255,0,0,0.6)"/>
<rect x="666" y="285.85" width="1" height="9.65" fill="rgba(255,0,0,0.6)"/>
<rect x="666" y="276.15" width="2" height="9.70" fill="rgba(255,0,0,0.8)"/>
<rect x="669" y="266.50" width="1" height="9.65" fill="rgba(255,0,0,0.6)"/>
<rect x="669" y="285.85" width="1" height="9.65" fill="rgba(255,0,0,0.6)"/>
<rect x="668" y="276.15" width="2" height="9.70" fill="rgba(255,0,0,0.8)"/>
<rect x="671" y="266.50" width="1" height="9.65" fill="rgba(255,0,0,0.6)"/>
<rect x="671" y="285.85" width="1" height="9.65" fill="rgba(255,0,0,0.6)"/>
<rect x="670" y="276.15" width="2" height="9.70" fill="rgba(255,0,0,0.8)"/>
<rect x="673" y="266.50" width="1" height="9.65" fill="rgba(255,0,0,0.6)"/>
<rect x="673" y="285.85" width="1" height="9.65" fill="rgba(255,0,0,0.6)"/>
<rect x="673" y="276.15" width="2" height="9.70" fill="rgba(255,0,0,0.8)"/>
<rect x="675" y="266.50" width="1" height="9.65" fill="rgba(255,0,0,0.6)"/>
<rect x="675" y="285.85" width="1" height="9.65" fill="rgba(255,0,0,0.6)"/>
<rect x="675" y="276.15" width="2" height="9.70" fill="rgba(255,0,0,0.8)"/>
<rect x="678" y="266.50" width="1" height="9.65" fill="rgba(255,0,0,0.6)"/>
<rect x="678" y="285.85" width="1" height="9.65" fill="rgba(255,0,0,0.6)"/>
<rect x="677" y="276.15" width="2" height="9.70" fill="rgba(255,0,0,0.8)"/>
<rect x="680" y="266.50" width="1" height="9.65" fill="rgba(255,0,0,0.6)"/>
<rect x="680" y="285.85" width="1" height="9.65" fill="rgba(255,0,0,0.6)"/>
<rect x="679" y="276.15" width="2" height="9.70" fill="rgba(255,0,0,0.8)"/>
<rect x="682" y="266.50" width="1" height="9.65" fill="rgba(255,0,0,0.6)"/>
<rect x="682" y="285.85" width="1" height="9.65" fill="rgba(255,0,0,0.6)"/>
<rect x="682" y="276.15" width="2" height="9.70" fill="rgba(255,0,0,0.8)"/>
<rect x="684" y="266.50" width="1" height="9.65" fill="rgba(0,128,0,0.6)"/>
<rect x="684" y="285.85" width="1" height="9.65" fill="rgba(0,128,0,0.6)"/>
<rect x="684" y="276.15" width="2" height="9.70" fill="rgba(0,128,0,0.8)"/>
<rect x="686" y="266.50" width="1" height="9.65" fill="rgba(0,128,0,0.6)"/>
<rect x="686" y="285.85" width="1" height="9.65" fill="rgba(0,128,0,0.6)"/>
<rect x="686" y="276.15" width="2" height="9.70" fill="rgba(0,128,0,0.8)"/>
<rect x="689" y="266.50" width="1" height="9.65" fill="rgba(0,128,0,0.6)"/>
<rect x="689" y="285.85" width="1" height="9.65" fill="rgba(0,128,0,0.6)"/>
<rect x="688" y="276.15" width="2" height="9.70" fill="rgba(0,128,0,0.8)"/>
<rect x="691" y="266.50" width="1" height="9.65" fill="rgba(0,128,0,0.6)"/>
<rect x="691" y="285.85" width="1" height="9.65" fill="rgba(0,128,0,0.6)"/>
<rect x="690" y="276.15" width="2" height="9.70" fill="rgba(0,128,0,0.8)"/>
<rect x="693" y="266.50" width="1" height="9.65" fill="rgba(0,128,0,0.6)"/>
<rect x="693" y="285.85" width="1" height="9.65" fill="rgba(0,128,0,0.6)"/>
<rect x="693" y="276.15" width="2" height="9.70" fill="rgba(0,128,0,0.8)"/>
<rect x="695" y="266.50" width="1" height="9.65" fill="rgba(0,128,0,0.6)"/>
<rect x="695" y="285.85" width="1" height="9.65" fill="rgba(0,128,0,0.6)"/>
<rect x="695" y="276.15" width="2" height="9.70" fill="rgba(0,128,0,0.8)"/>
<rect x="698" y="266.50" width="1" height="9.65" fill="rgba(0,128,0,0.6)"/>
<rect x="698" y="285.85" width="1" height="9.65" fill="rgba(0,128,0,0.6)"/>
<rect x="697" y="276.15" width="2" height="9.70" fill="rgba(0,128,0,0.8)"/>
<rect x="700" y="266.50" width="1" height="9.65" fill="rgba(0,128,0,0.6)"/>
<rect x="700" y="285.85" width="1" height="9.65" fill="rgba(0,128,0,0.6)"/>
<rect x="699" y="276.15" width="2" height="9.70" fill="rgba(0,128,0,0.8)"/>
<rect x="702" y="266.50" width="1" height="9.65" fill="rgba(0,128,0,0.6)"/>
<rect x="702" y="285.85" width="1" height="9.65" fill="rgba(0,128,0,0.6)"/>
<rect x="702" y="276.15" width="2" height="9.70" fill="rgba(0,128,0,0.8)"/>
<rect x="704" y="266.50" width="1" height="9.65" fill="rgba(0,128,0,0.6)"/>
<rect x="704" y="285.85" width="1" height="9.65" fill="rgba(0,128,0,0.6)"/>
<rect x="704" y="276.15" width="2" height="9.70" fill="rgba(0,128,0,0.8)"/>
<rect x="706" y="266.50" width="1" height="9.65" fill="rgba(0,128,0,0.6)"/>
<rect x="706" y="285.85" width="1" height="9.65" fill="rgba(0,128,0,0.6)"/>
<rect x="706" y="276.15" width="2" height="9.70" fill="rgba(0,128,0,0.8)"/>
<rect x="709" y="266.50" width="1" height="9.65" fill="rgba(0,128,0,0.6)"/>
<rect x="709" y="285.85" width="1" height="9.65" fill="rgba(0,128,0,0.6)"/>
<rect x="708" y="276.15" width="2" height="9.70" fill="rgba(0,128,0,0.8)"/>
<rect x="711" y="266.50" width="1" height="9.65" fill="rgba(0,128,0,0.6)"/>
<rect x="711" y="285.85" width="1" height="9.65" fill="rgba(0,128,0,0.6)"/>
<rect x="710" y="276.15" width="2" height="9.70" fill="rgba(0,128,0,0.8)"/>
<rect x="713" y="227.50" width="1" height="9.65" fill="rgba(0,128,0,0.6)"/>
<rect x="713" y="237.15" width="2" height="48.70" fill="rgba(0,128,0,0.8)"/>
<rect x="715" y="227.50" width="1" height="9.65" fill="rgba(0,128,0,0.6)"/>
<rect x="715" y="237.15" width="2" height="48.70" fill="rgba(0,128,0,0.8)"/>
<rect x="718" y="227.50" width="1" height="9.65" fill="rgba(0,128,0,0.6)"/>
<rect x="717" y="237.15" width="2" height="48.70" fill="rgba(0,128,0,0.8)"/>
<rect x="720" y="227.50" width="1" height="9.65" fill="rgba(0,128,0,0.6)"/>
<rect x="719" y="237.15" width="2" height="48.70" fill="rgba(0,128,0,0.8)"/>
<rect x="722" y="227.50" width="1" height="9.65" fill="rgba(0,128,0,0.6)"/>
<rect x="722" y="237.15" width="2" height="48.70" fill="rgba(0,128,0,0.8)"/>
<rect x="724" y="227.50" width="1" height="9.65" fill="rgba(0,128,0,0.6)"/>
<rect x="724" y="237.15" width="2" height="48.70" fill="rgba(0,128,0,0.8)"/>
<rect x="727" y="227.50" width="1" height="9.65" fill="rgba(0,128,0,0.6)"/>
<rect x="726" y="237.15" width="2" height="48.70" fill="rgba(0,128,0,0.8)"/>
<rect x="729" y="227.50" width="1" height="9.65" fill="rgba(0,128,0,0.6)"/>
<rect x="728" y="237.15" width="2" height="48.70" fill="rgba(0,128,0,0.8)"/>
<rect x="731" y="227.50" width="1" height="9.65" fill="rgba(0,128,0,0.6)"/>
<rect x="730" y="237.15" width="2" height="48.70" fill="rgba(0,128,0,0.8)"/>
<rect x="733" y="227.50" width="1" height="9.65" fill="rgba(0,128,0,0.6)"/>
<rect x="733" y="237.15" width="2" height="48.70" fill="rgba(0,128,0,0.8)"/>
<rect x="735" y="227.50" width="1" height="9.65" fill="rgba(0,128,0,0.6)"/>
<rect x="735" y="237.15" width="2" height="48.70" fill="rgba(0,128,0,0.8)"/>
<rect x="738" y="227.50" width="1" height="9.65" fill="rgba(0,128,0,0.6)"/>
<rect x="737" y="237.15" width="2" height="48.70" fill="rgba(0,128,0,0.8)"/>
<rect x="739" y="189.15" width="2" height="48.70" fill="rgba(0,128,0,0.8)"/>
<rect x="742" y="189.15" width="2" height="48.70" fill="rgba(0,128,0,0.8)"/>
<rect x="744" y="189.15" width="2" height="48.70" fill="rgba(0,128,0,0.8)"/>
<rect x="746" y="189.15" width="2" height="48.70" fill="rgba(0,128,0,0.8)"/>
<rect x="748" y="189.15" width="2" height="48.70" fill="rgba(0,128,0,0.8)"/>
<rect x="750" y="189.15" width="2" height="48.70" fill="rgba(0,128,0,0.8)"/>
<rect x="753" y="189.15" width="2" height="48.70" fill="rgba(0,128,0,0.8)"/>
<rect x="755" y="189.15" width="2" height="48.70" fill="rgba(0,128,0,0.8)"/>
<rect x="757" y="189.15" width="2" height="48.70" fill="rgba(0,128,0,0.8)"/>
<rect x="759" y="189.15" width="2" height="48.70" fill="rgba(0,128,0,0.8)"/>
<rect x="762" y="189.15" width="2" height="48.70" fill="rgba(0,128,0,0.8)"/>
<rect x="764" y="169.50" width="1" height="19.65" fill="rgba(255,0,0,0.6)"/>
<rect x="764" y="189.15" width="2" height="19.70" fill="rgba(255,0,0,0.8)"/>
<rect x="767" y="169.50" width="1" height="19.65" fill="rgba(255,0,0,0.6)"/>
<rect x="766" y="189.15" width="2" height="19.70" fill="rgba(255,0,0,0.8)"/>
<rect x="769" y="169.50" width="1" height="19.65" fill="rgba(255,0,0,0.6)"/>
<rect x="768" y="189.15" width="2" height="19.70" fill="rgba(255,0,0,0.8)"/>
<rect x="771" y="169.50" width="1" height="19.65" fill="rgba(255,0,0,0.6)"/>
<rect x="771" y="189.15" width="1" height="19.70" fill="rgba(255,0,0,0.65)"/>
<rect x="773" y="169.50" width="1" height="19.65" fill="rgba(255,0,0,0.6)"/>
<rect x="773" y="189.15" width="2" height="19.70" fill="rgba(255,0,0,0.8)"/>
<rect x="775" y="169.50" width="1" height="19.65" fill="rgba(255,0,0,0.6)"/>
<rect x="775" y="189.15" width="2" height="19.70" fill="rgba(255,0,0,0.8)"/>
<rect x="778" y="169.50" width="1" height="19.65" fill="rgba(255,0,0,0.6)"/>
<rect x="777" y="189.15" width="2" height="19.70" fill="rgba(255,0,0,0.8)"/>
<rect x="780" y="169.50" width="1" height="19.65" fill="rgba(255,0,0,0.6)"/>
<rect x="779" y="189.15" width="2" height="19.70" fill="rgba(255,0,0,0.8)"/>
<rect x="782" y="169.50" width="1" height="19.65" fill="rgba(255,0,0,0.6)"/>
<rect x="782" y="189.15" width="2" height="19.70" fill="rgba(255,0,0,0.8)"/>
<rect x="784" y="169.50" width="1" height="19.65" fill="rgba(255,0,0,0.6)"/>
<rect x="784" y="189.15" width="2" height="19.70" fill="rgba(255,0,0,0.8)"/>
<rect x="787" y="189.50" width="1" height="8.65" fill="rgba(0,128,0,0.6)"/>
<rect x="786" y="198.15" width="2" height="10.70" fill="rgba(0,128,0,0.8)"/>
<rect x="789" y="189.50" width="1" height="8.65" fill="rgba(0,128,0,0.6)"/>
<rect x="788" y="198.15" width="2" height="10.70" fill="rgba(0,128,0,0.8)"/>
<rect x="791" y="189.50" width="1" height="8.65" fill="rgba(0,128,0,0.6)"/>
<rect x="791" y="198.15" width="1" height="10.70" fill="rgba(0,128,0,0.65)"/>
<rect x="793" y="189.50" width="1" height="8.65" fill="rgba(0,128,0,0.6)"/>
<rect x="793" y="198.15" width="2" height="10.70" fill="rgba(0,128,0,0.8)"/>
<rect x="795" y="189.50" width="1" height="8.65" fill="rgba(0,128,0,0.6)"/>
<rect x="795" y="198.15" width="2" height="10.70" fill="rgba(0,128,0,0.8)"/>
<rect x="798" y="189.50" width="1" height="8.65" fill="rgba(0,128,0,0.6)"/>
<rect x="797" y="198.15" width="2" height="10.70" fill="rgba(0,128,0,0.8)"/>
<rect x="800" y="189.50" width="1" height="8.65" fill="rgba(0,128,0,0.6)"/>
<rect x="799" y="198.15" width="2" height="10.70" fill="rgba(0,128,0,0.8)"/>
<rect x="802" y="189.50" width="1" height="8.65" fill="rgba(0,128,0,0.6)"/>
<rect x="802" y="198.15" width="2" height="10.70" fill="rgba(0,128,0,0.8)"/>
<rect x="804" y="189.50" width="1" height="8.65" fill="rgba(0,128,0,0.6)"/>
<rect x="804" y="198.15" width="2" height="10.70" fill="rgba(0,128,0,0.8)"/>
<rect x="807" y="169.50" width="1" height="9.65" fill="rgba(0,128,0,0.6)"/>
<rect x="807" y="198.85" width="1" height="9.65" fill="rgba(0,128,0,0.6)"/>
<rect x="806" y="179.15" width="2" height="19.70" fill="rgba(0,128,0,0.8)"/>
<rect x="809" y="169.50" width="1" height="9.65" fill="rgba(0,128,0,0.6)"/>
<rect x="809" y="198.85" width="1" height="9.65" fill="rgba(0,128,0,0.6)"/>
<rect x="808" y="179.15" width="2" height="19.70" fill="rgba(0,128,0,0.8)"/>
<rect x="811" y="169.50" width="1" height="9.65" fill="rgba(0,128,0,0.6)"/>
<rect x="811" y="198.85" width="1" height="9.65" fill="rgba(0,128,0,0.6)"/>
<rect x="811" y="179.15" width="1" height="19.70" fill="rgba(0,128,0,0.65)"/>
<rect x="813" y="169.50" width="1" height="9.65" fill="rgba(0,128,0,0.6)"/>
<rect x="813" y="198.85" width="1" height="9.65" fill="rgba(0,128,0,0.6)"/>
<rect x="813" y="179.15" width="2" height="19.70" fill="rgba(0,128,0,0.8)"/>
<rect x="815" y="169.50" width="1" height="9.65" fill="rgba(0,128,0,0.6)"/>
<rect x="815" y="198.85" width="1" height="9.65" fill="rgba(0,128,0,0.6)"/>
<rect x="815" y="179.15" width="2" height="19.70" fill="rgba(0,128,0,0.8)"/>
<rect x="818" y="169.50" width="1" height="9.65" fill="rgba(0,128,0,0.6)"/>
<rect x="818" y="198.85" width="1" height="9.65" fill="rgba(0,128,0,0.6)"/>
<rect x="817" y="179.15" width="2" height="19.70" fill="rgba(0,128,0,0.8)"/>
<rect x="820" y="169.50" width="1" height="9.65" fill="rgba(0,128,0,0.6)"/>
<rect x="820" y="198.85" width="1" height="9.65" fill="rgba(0,128,0,0.6)"/>
<rect x="819" y="179.15" width="2" height="19.70" fill="rgba(0,128,0,0.8)"/>
<rect x="822" y="169.50" width="1" height="9.65" fill="rgba(0,128,0,0.6)"/>
<rect x="822" y="198.85" width="1" height="9.65" fill="rgba(0,128,0,0.6)"/>
<rect x="822" y="179.15" width="2" height="19.70" fill="rgba(0,128,0,0.8)"/>
<rect x="824" y="169.50" width="1" height="20.00" fill="rgba(255,0,0,0.6)"/>
<rect x="824" y="179.15" width="2" height="0.7" fill="rgba(255,0,0,0.55)"/>
<rect x="827" y="169.50" width="1" height="20.00" fill="rgba(255,0,0,0.6)"/>
<rect x="826" y="179.15" width="2" height="0.7" fill="rgba(255,0,0,0.55)"/>
<rect x="829" y="169.50" width="1" height="20.00" fill="rgba(255,0,0,0.6)"/>
<rect x="828" y="179.15" width="2" height="0.7" fill="rgba(255,0,0,0.55)"/>
<rect x="831" y="169.50" width="1" height="20.00" fill="rgba(255,0,0,0.6)"/>
<rect x="831" y="179.15" width="1" height="0.7" fill="rgba(255,0,0,0.55)"/>
<rect x="833" y="169.50" width="1" height="20.00" fill="rgba(255,0,0,0.6)"/>
<rect x="833" y="179.15" width="2" height="0.7" fill="rgba(255,0,0,0.55)"/>
<rect x="835" y="169.50" width="1" height="20.00" fill="rgba(255,0,0,0.6)"/>
<rect x="835" y="179.15" width="2" height="0.7" fill="rgba(255,0,0,0.55)"/>
<rect x="838" y="169.50" width="1" height="20.00" fill="rgba(255,0,0,0.6)"/>
<rect x="837" y="179.15" width="2" height="0.7" fill="rgba(255,0,0,0.55)"/>
<rect x="840" y="130.50" width="1" height="9.65" fill="rgba(0,128,0,0.6)"/>
<rect x="839" y="140.15" width="2" height="39.70" fill="rgba(0,128,0,0.8)"/>
<rect x="842" y="130.50" width="1" height="9.65" fill="rgba(0,128,0,0.6)"/>
<rect x="842" y="140.15" width="2" height="39.70" fill="rgba(0,128,0,0.8)"/>
<rect x="844" y="130.50" width="1" height="9.65" fill="rgba(0,128,0,0.6)"/>
<rect x="844" y="140.15" width="2" height="39.70" fill="rgba(0,128,0,0.8)"/>
<rect x="847" y="130.50" width="1" height="9.65" fill="rgba(0,128,0,0.6)"/>
<rect x="846" y="140.15" width="2" height="39.70" fill="rgba(0,128,0,0.8)"/>
<rect x="849" y="130.50" width="1" height="9.65" fill="rgba(0,128,0,0.6)"/>
<rect x="848" y="140.15" width="2" height="39.70" fill="rgba(0,128,0,0.8)"/>
<rect x="851" y="130.50" width="1" height="9.65" fill="rgba(0,128,0,0.6)"/>
<rect x="851" y="140.15" width="1" height="39.70" fill="rgba(0,128,0,0.65)"/>
<rect x="853" y="130.50" width="1" height="9.65" fill="rgba(255,0,0,0.6)"/>
<rect x="853" y="160.85" width="1" height="18.65" fill="rgba(255,0,0,0.6)"/>
<rect x="853" y="140.15" width="2" height="20.70" fill="rgba(255,0,0,0.8)"/>
<rect x="855" y="130.50" width="1" height="9.65" fill="rgba(255,0,0,0.6)"/>
<rect x="855" y="160.85" width="1" height="18.65" fill="rgba(255,0,0,0.6)"/>
<rect x="855" y="140.15" width="2" height="20.70" fill="rgba(255,0,0,0.8)"/>
<rect x="858" y="130.50" width="1" height="9.65" fill="rgba(255,0,0,0.6)"/>
<rect x="858" y="160.85" width="1" height="18.65" fill="rgba(255,0,0,0.6)"/>
<rect x="857" y="140.15" width="2" height="20.70" fill="rgba(255,0,0,0.8)"/>
<rect x="860" y="130.50" width="1" height="9.65" fill="rgba(255,0,0,0.6)"/>
<rect x="860" y="160.85" width="1" height="18.65" fill="rgba(255,0,0,0.6)"/>
<rect x="859" y="140.15" width="2" height="20.70" fill="rgba(255,0,0,0.8)"/>
<rect x="862" y="130.50" width="1" height="9.65" fill="rgba(255,0,0,0.6)"/>
<rect x="862" y="160.85" width="1" height="18.65" fill="rgba(255,0,0,0.6)"/>
<rect x="862" y="140.15" width="2" height="20.70" fill="rgba(255,0,0,0.8)"/>
<rect x="864" y="130.50" width="1" height="9.65" fill="rgba(0,128,0,0.6)"/>
<rect x="864" y="140.15" width="2" height="20.70" fill="rgba(0,128,0,0.8)"/>
<rect x="867" y="130.50" width="1" height="9.65" fill="rgba(0,128,0,0.6)"/>
<rect x="866" y="140.15" width="2" height="20.70" fill="rgba(0,128,0,0.8)"/>
<rect x="869" y="130.50" width="1" height="9.65" fill="rgba(0,128,0,0.6)"/>
<rect x="868" y="140.15" width="2" height="20.70" fill="rgba(0,128,0,0.8)"/>
<rect x="871" y="130.50" width="1" height="9.65" fill="rgba(0,128,0,0.6)"/>
<rect x="871" y="140.15" width="1" height="20.70" fill="rgba(0,128,0,0.65)"/>
<rect x="873" y="101.15" width="2" height="49.70" fill="rgba(0,128,0,0.8)"/>
<rect x="875" y="101.15" width="2" height="49.70" fill="rgba(0,128,0,0.8)"/>
<rect x="877" y="101.15" width="2" height="49.70" fill="rgba(0,128,0,0.8)"/>
<rect x="880" y="82.50" width="1" height="18.65" fill="rgba(255,0,0,0.6)"/>
<rect x="879" y="101.15" width="2" height="10.70" fill="rgba(255,0,0,0.8)"/>
<rect x="882" y="82.50" width="1" height="18.65" fill="rgba(255,0,0,0.6)"/>
<rect x="882" y="101.15" width="2" height="10.70" fill="rgba(255,0,0,0.8)"/>
<rect x="884" y="82.50" width="1" height="28.65" fill="rgba(255,0,0,0.6)"/>
<rect x="884" y="140.85" width="1" height="9.65" fill="rgba(255,0,0,0.6)"/>
<rect x="884" y="111.15" width="2" height="29.70" fill="rgba(255,0,0,0.8)"/>
</g>
<g shape-rendering="crispEdges">
<rect x="219" y="440" width="3" height="32" fill="#2e7ab5"/>
<rect x="220" y="441" width="1" height="31" fill="rgb(255,0,0)"/>
<rect x="221" y="440" width="3" height="32" fill="#2e7ab5"/>
<rect x="222" y="441" width="1" height="31" fill="rgb(255,0,0)"/>
<rect x="223" y="440" width="3" height="32" fill="#2e7ab5"/>
<rect x="224" y="441" width="1" height="31" fill="rgb(255,0,0)"/>
<rect x="225" y="440" width="3" height="32" fill="#2e7ab5"/>
<rect x="226" y="441" width="1" height="31" fill="rgb(255,0,0)"/>
<rect x="228" y="440" width="2" height="32" fill="#2e7ab5"/>
<rect x="230" y="440" width="3" height="32" fill="#2e7ab5"/>
<rect x="231" y="441" width="1" height="31" fill="rgb(255,0,0)"/>
<rect x="232" y="440" width="3" height="32" fill="#2e7ab5"/>
<rect x="233" y="441" width="1" height="31" fill="rgb(255,0,0)"/>
<rect x="234" y="440" width="3" height="32" fill="#2e7ab5"/>
<rect x="235" y="441" width="1" height="31" fill="rgb(255,0,0)"/>
<rect x="237" y="440" width="2" height="32" fill="#2e7ab5"/>
<rect x="239" y="440" width="3" height="32" fill="#2e7ab5"/>
<rect x="240" y="441" width="1" height="31" fill="rgb(255,0,0)"/>
<rect x="241" y="440" width="3" height="32" fill="#2e7ab5"/>
<rect x="242" y="441" width="1" height="31" fill="rgb(255,0,0)"/>
<rect x="243" y="440" width="3" height="32" fill="#2e7ab5"/>
<rect x="244" y="441" width="1" height="31" fill="rgb(255,0,0)"/>
<rect x="245" y="440" width="3" height="32" fill="#2e7ab5"/>
<rect x="246" y="441" width="1" height="31" fill="rgb(255,0,0)"/>
<rect x="248" y="440" width="2" height="32" fill="#2e7ab5"/>
<rect x="250" y="440" width="3" height="32" fill="#2e7ab5"/>
<rect x="251" y="441" width="1" height="31" fill="rgb(255,0,0)"/>
<rect x="252" y="440" width="3" height="32" fill="#2e7ab5"/>
<rect x="253" y="441" width="1" height="31" fill="rgb(255,0,0)"/>
<rect x="254" y="440" width="3" height="32" fill="#2e7ab5"/>
<rect x="255" y="441" width="1" height="31" fill="rgb(255,0,0)"/>
<rect x="257" y="440" width="2" height="32" fill="#2e7ab5"/>
<rect x="259" y="440" width="3" height="32" fill="#2e7ab5"/>
<rect x="260" y="441" width="1" height="31" fill="rgb(255,0,0)"/>
<rect x="261" y="440" width="3" height="32" fill="#2e7ab5"/>
<rect x="262" y="441" width="1" height="31" fill="rgb(255,0,0)"/>
<rect x="263" y="440" width="3" height="32" fill="#2e7ab5"/>
<rect x="264" y="441" width="1" height="31" fill="rgb(255,0,0)"/>
<rect x="265" y="440" width="3" height="32" fill="#2e7ab5"/>
<rect x="266" y="441" width="1" height="31" fill="rgb(255,0,0)"/>
<rect x="268" y="440" width="2" height="32" fill="#2e7ab5"/>
<rect x="270" y="440" width="3" height="32" fill="#2e7ab5"/>
<rect x="271" y="441" width="1" height="31" fill="rgb(255,0,0)"/>
<rect x="272" y="455" width="3" height="17" fill="#2e7ab5"/>
<rect x="273" y="456" width="1" height="16" fill="rgb(255,0,0)"/>
<rect x="274" y="455" width="3" height="17" fill="#2e7ab5"/>
<rect x="275" y="456" width="1" height="16" fill="rgb(255,0,0)"/>
<rect x="277" y="455" width="2" height="17" fill="#2e7ab5"/>
<rect x="279" y="455" width="3" height="17" fill="#2e7ab5"/>
<rect x="280" y="456" width="1" height="16" fill="rgb(255,0,0)"/>
<rect x="281" y="455" width="3" height="17" fill="#2e7ab5"/>
<rect x="282" y="456" width="1" height="16" fill="rgb(255,0,0)"/>
<rect x="283" y="455" width="3" height="17" fill="#2e7ab5"/>
<rect x="284" y="456" width="1" height="16" fill="rgb(255,0,0)"/>
<rect x="285" y="455" width="3" height="17" fill="#2e7ab5"/>
<rect x="286" y="456" width="1" height="16" fill="rgb(255,0,0)"/>
<rect x="288" y="455" width="2" height="17" fill="#2e7ab5"/>
<rect x="290" y="455" width="3" height="17" fill="#2e7ab5"/>
<rect x="291" y="456" width="1" height="16" fill="rgb(255,0,0)"/>
<rect x="292" y="455" width="3" height="17" fill="#2e7ab5"/>
<rect x="293" y="456" width="1" height="16" fill="rgb(255,0,0)"/>
<rect x="294" y="455" width="3" height="17" fill="#2e7ab5"/>
<rect x="295" y="456" width="1" height="16" fill="rgb(255,0,0)"/>
<rect x="297" y="455" width="2" height="17" fill="#2e7ab5"/>
<rect x="299" y="455" width="3" height="17" fill="#2e7ab5"/>
<rect x="300" y="456" width="1" height="16" fill="rgb(255,0,0)"/>
<rect x="301" y="455" width="3" height="17" fill="#2e7ab5"/>
<rect x="302" y="456" width="1" height="16" fill="rgb(255,0,0)"/>
<rect x="303" y="455" width="3" height="17" fill="#2e7ab5"/>
<rect x="304" y="456" width="1" height="16" fill="rgb(255,0,0)"/>
<rect x="305" y="455" width="3" height="17" fill="#2e7ab5"/>
<rect x="306" y="456" width="1" height="16" fill="rgb(255,0,0)"/>
<rect x="308" y="455" width="3" height="17" fill="#2e7ab5"/>
<rect x="309" y="456" width="1" height="16" fill="rgb(255,0,0)"/>
<rect x="310" y="455" width="3" height="17" fill="#2e7ab5"/>
<rect x="311" y="456" width="1" height="16" fill="rgb(255,0,0)"/>
<rect x="312" y="455" width="3" height="17" fill="#2e7ab5"/>
<rect x="313" y="456" width="1" height="16" fill="rgb(255,0,0)"/>
<rect x="314" y="455" width="3" height="17" fill="#2e7ab5"/>
<rect x="315" y="456" width="1" height="16" fill="rgb(255,0,0)"/>
<rect x="317" y="455" width="2" height="17" fill="#2e7ab5"/>
<rect x="319" y="455" width="3" height="17" fill="#2e7ab5"/>
<rect x="320" y="456" width="1" height="16" fill="rgb(255,0,0)"/>
<rect x="321" y="455" width="3" height="17" fill="#2e7ab5"/>
<rect x="322" y="456" width="1" height="16" fill="rgb(255,0,0)"/>
<rect x="323" y="458" width="3" height="14" fill="#2e7ab5"/>
<rect x="324" y="459" width="1" height="13" fill="rgb(255,0,0)"/>
<rect x="325" y="458" width="3" height="14" fill="#2e7ab5"/>
<rect x="326" y="459" width="1" height="13" fill="rgb(255,0,0)"/>
<rect x="328" y="458" width="3" height="14" fill="#2e7ab5"/>
<rect x="329" y="459" width="1" height="13" fill="rgb(255,0,0)"/>
<rect x="330" y="458" width="3" height="14" fill="#2e7ab5"/>
<rect x="331" y="459" width="1" height="13" fill="rgb(255,0,0)"/>
<rect x="332" y="458" width="3" height="14" fill="#2e7ab5"/>
<rect x="333" y="459" width="1" height="13" fill="rgb(255,0,0)"/>
<rect x="334" y="458" width="3" height="14" fill="#2e7ab5"/>
<rect x="335" y="459" width="1" height="13" fill="rgb(255,0,0)"/>
<rect x="337" y="458" width="2" height="14" fill="#2e7ab5"/>
<rect x="339" y="458" width="3" height="14" fill="#2e7ab5"/>
<rect x="340" y="459" width="1" height="13" fill="rgb(255,0,0)"/>
<rect x="341" y="458" width="3" height="14" fill="#2e7ab5"/>
<rect x="342" y="459" width="1" height="13" fill="rgb(255,0,0)"/>
<rect x="343" y="458" width="3" height="14" fill="#2e7ab5"/>
<rect x="344" y="459" width="1" height="13" fill="rgb(255,0,0)"/>
<rect x="345" y="458" width="3" height="14" fill="#2e7ab5"/>
<rect x="346" y="459" width="1" height="13" fill="rgb(255,0,0)"/>
<rect x="348" y="458" width="3" height="14" fill="#2e7ab5"/>
<rect x="349" y="459" width="1" height="13" fill="rgb(255,0,0)"/>
<rect x="350" y="458" width="3" height="14" fill="#2e7ab5"/>
<rect x="351" y="459" width="1" height="13" fill="rgb(255,0,0)"/>
<rect x="352" y="458" width="3" height="14" fill="#2e7ab5"/>
<rect x="353" y="459" width="1" height="13" fill="rgb(255,0,0)"/>
<rect x="354" y="458" width="3" height="14" fill="#2e7ab5"/>
<rect x="355" y="459" width="1" height="13" fill="rgb(255,0,0)"/>
<rect x="357" y="458" width="2" height="14" fill="#2e7ab5"/>
<rect x="359" y="458" width="3" height="14" fill="#2e7ab5"/>
<rect x="360" y="459" width="1" height="13" fill="rgb(255,0,0)"/>
<rect x="361" y="458" width="3" height="14" fill="#2e7ab5"/>
<rect x="362" y="459" width="1" height="13" fill="rgb(255,0,0)"/>
<rect x="363" y="458" width="3" height="14" fill="#2e7ab5"/>
<rect x="364" y="459" width="1" height="13" fill="rgb(255,0,0)"/>
<rect x="365" y="458" width="3" height="14" fill="#2e7ab5"/>
<rect x="366" y="459" width="1" height="13" fill="rgb(255,0,0)"/>
<rect x="368" y="458" width="3" height="14" fill="#2e7ab5"/>
<rect x="369" y="459" width="1" height="13" fill="rgb(255,0,0)"/>
<rect x="370" y="458" width="3" height="14" fill="#2e7ab5"/>
<rect x="371" y="459" width="1" height="13" fill="rgb(255,0,0)"/>
<rect x="372" y="452" width="3" height="20" fill="#2e7ab5"/>
<rect x="373" y="453" width="1" height="19" fill="rgb(0,128,0)"/>
<rect x="374" y="452" width="3" height="20" fill="#2e7ab5"/>
<rect x="375" y="453" width="1" height="19" fill="rgb(0,128,0)"/>
<rect x="377" y="452" width="2" height="20" fill="#2e7ab5"/>
<rect x="379" y="452" width="3" height="20" fill="#2e7ab5"/>
<rect x="380" y="453" width="1" height="19" fill="rgb(0,128,0)"/>
<rect x="381" y="452" width="3" height="20" fill="#2e7ab5"/>
<rect x="382" y="453" width="1" height="19" fill="rgb(0,128,0)"/>
<rect x="383" y="452" width="3" height="20" fill="#2e7ab5"/>
<rect x="384" y="453" width="1" height="19" fill="rgb(0,128,0)"/>
<rect x="385" y="452" width="3" height="20" fill="#2e7ab5"/>
<rect x="386" y="453" width="1" height="19" fill="rgb(0,128,0)"/>
<rect x="388" y="452" width="3" height="20" fill="#2e7ab5"/>
<rect x="389" y="453" width="1" height="19" fill="rgb(0,128,0)"/>
<rect x="390" y="452" width="3" height="20" fill="#2e7ab5"/>
<rect x="391" y="453" width="1" height="19" fill="rgb(0,128,0)"/>
<rect x="392" y="452" width="3" height="20" fill="#2e7ab5"/>
<rect x="393" y="453" width="1" height="19" fill="rgb(0,128,0)"/>
<rect x="394" y="452" width="3" height="20" fill="#2e7ab5"/>
<rect x="395" y="453" width="1" height="19" fill="rgb(0,128,0)"/>
<rect x="397" y="452" width="2" height="20" fill="#2e7ab5"/>
<rect x="399" y="452" width="3" height="20" fill="#2e7ab5"/>
<rect x="400" y="453" width="1" height="19" fill="rgb(0,128,0)"/>
<rect x="401" y="452" width="3" height="20" fill="#2e7ab5"/>
<rect x="402" y="453" width="1" height="19" fill="rgb(0,128,0)"/>
<rect x="403" y="452" width="3" height="20" fill="#2e7ab5"/>
<rect x="404" y="453" width="1" height="19" fill="rgb(0,128,0)"/>
<rect x="405" y="452" width="3" height="20" fill="#2e7ab5"/>
<rect x="406" y="453" width="1" height="19" fill="rgb(0,128,0)"/>
<rect x="408" y="452" width="3" height="20" fill="#2e7ab5"/>
<rect x="409" y="453" width="1" height="19" fill="rgb(0,128,0)"/>
<rect x="410" y="452" width="3" height="20" fill="#2e7ab5"/>
<rect x="411" y="453" width="1" height="19" fill="rgb(0,128,0)"/>
<rect x="412" y="452" width="3" height="20" fill="#2e7ab5"/>
<rect x="413" y="453" width="1" height="19" fill="rgb(0,128,0)"/>
<rect x="414" y="452" width="3" height="20" fill="#2e7ab5"/>
<rect x="415" y="453" width="1" height="19" fill="rgb(0,128,0)"/>
<rect x="417" y="452" width="2" height="20" fill="#2e7ab5"/>
<rect x="419" y="458" width="3" height="14" fill="#2e7ab5"/>
<rect x="420" y="459" width="1" height="13" fill="rgb(255,0,0)"/>
<rect x="421" y="458" width="3" height="14" fill="#2e7ab5"/>
<rect x="422" y="459" width="1" height="13" fill="rgb(255,0,0)"/>
<rect x="423" y="458" width="3" height="14" fill="#2e7ab5"/>
<rect x="424" y="459" width="1" height="13" fill="rgb(255,0,0)"/>
<rect x="425" y="458" width="3" height="14" fill="#2e7ab5"/>
<rect x="426" y="459" width="1" height="13" fill="rgb(255,0,0)"/>
<rect x="428" y="458" width="3" height="14" fill="#2e7ab5"/>
<rect x="429" y="459" width="1" height="13" fill="rgb(255,0,0)"/>
<rect x="430" y="458" width="3" height="14" fill="#2e7ab5"/>
<rect x="431" y="459" width="1" height="13" fill="rgb(255,0,0)"/>
<rect x="432" y="458" width="3" height="14" fill="#2e7ab5"/>
<rect x="433" y="459" width="1" height="13" fill="rgb(255,0,0)"/>
<rect x="434" y="458" width="3" height="14" fill="#2e7ab5"/>
<rect x="435" y="459" width="1" height="13" fill="rgb(255,0,0)"/>
<rect x="437" y="458" width="2" height="14" fill="#2e7ab5"/>
<rect x="439" y="458" width="3" height="14" fill="#2e7ab5"/>
<rect x="440" y="459" width="1" height="13" fill="rgb(255,0,0)"/>
<rect x="441" y="458" width="3" height="14" fill="#2e7ab5"/>
<rect x="442" y="459" width="1" height="13" fill="rgb(255,0,0)"/>
<rect x="443" y="458" width="3" height="14" fill="#2e7ab5"/>
<rect x="444" y="459" width="1" height="13" fill="rgb(255,0,0)"/>
<rect x="445" y="458" width="3" height="14" fill="#2e7ab5"/>
<rect x="446" y="459" width="1" height="13" fill="rgb(255,0,0)"/>
<rect x="448" y="458" width="3" height="14" fill="#2e7ab5"/>
<rect x="449" y="459" width="1" height="13" fill="rgb(255,0,0)"/>
<rect x="450" y="458" width="3" height="14" fill="#2e7ab5"/>
<rect x="451" y="459" width="1" height="13" fill="rgb(255,0,0)"/>
<rect x="452" y="458" width="3" height="14" fill="#2e7ab5"/>
<rect x="453" y="459" width="1" height="13" fill="rgb(255,0,0)"/>
<rect x="454" y="458" width="3" height="14" fill="#2e7ab5"/>
<rect x="455" y="459" width="1" height="13" fill="rgb(255,0,0)"/>
<rect x="457" y="458" width="2" height="14" fill="#2e7ab5"/>
<rect x="459" y="458" width="3" height="14" fill="#2e7ab5"/>
<rect x="460" y="459" width="1" height="13" fill="rgb(255,0,0)"/>
<rect x="461" y="458" width="3" height="14" fill="#2e7ab5"/>
<rect x="462" y="459" width="1" height="13" fill="rgb(255,0,0)"/>
<rect x="463" y="437" width="3" height="35" fill="#2e7ab5"/>
<rect x="464" y="438" width="1" height="34" fill="rgb(0,128,0)"/>
<rect x="465" y="437" width="3" height="35" fill="#2e7ab5"/>
<rect x="466" y="438" width="1" height="34" fill="rgb(0,128,0)"/>
<rect x="468" y="437" width="3" height="35" fill="#2e7ab5"/>
<rect x="469" y="438" width="1" height="34" fill="rgb(0,128,0)"/>
<rect x="470" y="437" width="3" height="35" fill="#2e7ab5"/>
<rect x="471" y="438" width="1" height="34" fill="rgb(0,128,0)"/>
<rect x="472" y="437" width="3" height="35" fill="#2e7ab5"/>
<rect x="473" y="438" width="1" height="34" fill="rgb(0,128,0)"/>
<rect x="474" y="437" width="3" height="35" fill="#2e7ab5"/>
<rect x="475" y="438" width="1" height="34" fill="rgb(0,128,0)"/>
<rect x="477" y="437" width="2" height="35" fill="#2e7ab5"/>
<rect x="479" y="437" width="3" height="35" fill="#2e7ab5"/>
<rect x="480" y="438" width="1" height="34" fill="rgb(0,128,0)"/>
<rect x="481" y="437" width="3" height="35" fill="#2e7ab5"/>
<rect x="482" y="438" width="1" height="34" fill="rgb(0,128,0)"/>
<rect x="483" y="437" width="3" height="35" fill="#2e7ab5"/>
<rect x="484" y="438" width="1" height="34" fill="rgb(0,128,0)"/>
<rect x="486" y="437" width="2" height="35" fill="#2e7ab5"/>
<rect x="488" y="437" width="3" height="35" fill="#2e7ab5"/>
<rect x="489" y="438" width="1" height="34" fill="rgb(0,128,0)"/>
<rect x="490" y="437" width="3" height="35" fill="#2e7ab5"/>
<rect x="491" y="438" width="1" height="34" fill="rgb(0,128,0)"/>
<rect x="492" y="437" width="3" height="35" fill="#2e7ab5"/>
<rect x="493" y="438" width="1" height="34" fill="rgb(0,128,0)"/>
<rect x="494" y="437" width="3" height="35" fill="#2e7ab5"/>
<rect x="495" y="438" width="1" height="34" fill="rgb(0,128,0)"/>
<rect x="497" y="437" width="2" height="35" fill="#2e7ab5"/>
<rect x="499" y="437" width="3" height="35" fill="#2e7ab5"/>
<rect x="500" y="438" width="1" height="34" fill="rgb(0,128,0)"/>
<rect x="501" y="437" width="3" height="35" fill="#2e7ab5"/>
<rect x="502" y="438" width="1" height="34" fill="rgb(0,128,0)"/>
<rect x="503" y="437" width="3" height="35" fill="#2e7ab5"/>
<rect x="504" y="438" width="1" height="34" fill="rgb(0,128,0)"/>
<rect x="506" y="450" width="2" height="22" fill="#2e7ab5"/>
<rect x="508" y="450" width="3" height="22" fill="#2e7ab5"/>
<rect x="509" y="451" width="1" height="21" fill="rgb(255,0,0)"/>
<rect x="510" y="450" width="3" height="22" fill="#2e7ab5"/>
<rect x="511" y="451" width="1" height="21" fill="rgb(255,0,0)"/>
<rect x="512" y="450" width="3" height="22" fill="#2e7ab5"/>
<rect x="513" y="451" width="1" height="21" fill="rgb(255,0,0)"/>
<rect x="514" y="450" width="3" height="22" fill="#2e7ab5"/>
<rect x="515" y="451" width="1" height="21" fill="rgb(255,0,0)"/>
<rect x="517" y="450" width="2" height="22" fill="#2e7ab5"/>
<rect x="519" y="450" width="3" height="22" fill="#2e7ab5"/>
<rect x="520" y="451" width="1" height="21" fill="rgb(255,0,0)"/>
<rect x="521" y="450" width="3" height="22" fill="#2e7ab5"/>
<rect x="522" y="451" width="1" height="21" fill="rgb(255,0,0)"/>
<rect x="523" y="450" width="3" height="22" fill="#2e7ab5"/>
<rect x="524" y="451" width="1" height="21" fill="rgb(255,0,0)"/>
<rect x="526" y="450" width="2" height="22" fill="#2e7ab5"/>
<rect x="528" y="450" width="3" height="22" fill="#2e7ab5"/>
<rect x="529" y="451" width="1" height="21" fill="rgb(255,0,0)"/>
<rect x="530" y="450" width="3" height="22" fill="#2e7ab5"/>
<rect x="531" y="451" width="1" height="21" fill="rgb(255,0,0)"/>
<rect x="532" y="450" width="3" height="22" fill="#2e7ab5"/>
<rect x="533" y="451" width="1" height="21" fill="rgb(255,0,0)"/>
<rect x="534" y="450" width="3" height="22" fill="#2e7ab5"/>
<rect x="535" y="451" width="1" height="21" fill="rgb(255,0,0)"/>
<rect x="537" y="450" width="2" height="22" fill="#2e7ab5"/>
<rect x="539" y="450" width="3" height="22" fill="#2e7ab5"/>
<rect x="540" y="451" width="1" height="21" fill="rgb(255,0,0)"/>
<rect x="541" y="450" width="3" height="22" fill="#2e7ab5"/>
<rect x="542" y="451" width="1" height="21" fill="rgb(255,0,0)"/>
<rect x="543" y="450" width="3" height="22" fill="#2e7ab5"/>
<rect x="544" y="451" width="1" height="21" fill="rgb(255,0,0)"/>
<rect x="546" y="461" width="2" height="11" fill="#2e7ab5"/>
<rect x="548" y="461" width="3" height="11" fill="#2e7ab5"/>
<rect x="549" y="462" width="1" height="10" fill="rgb(0,128,0)"/>
<rect x="550" y="461" width="3" height="11" fill="#2e7ab5"/>
<rect x="551" y="462" width="1" height="10" fill="rgb(0,128,0)"/>
<rect x="552" y="461" width="3" height="11" fill="#2e7ab5"/>
<rect x="553" y="462" width="1" height="10" fill="rgb(0,128,0)"/>
<rect x="554" y="461" width="3" height="11" fill="#2e7ab5"/>
<rect x="555" y="462" width="1" height="10" fill="rgb(0,128,0)"/>
<rect x="557" y="461" width="2" height="11" fill="#2e7ab5"/>
<rect x="559" y="461" width="3" height="11" fill="#2e7ab5"/>
<rect x="560" y="462" width="1" height="10" fill="rgb(0,128,0)"/>
<rect x="561" y="461" width="3" height="11" fill="#2e7ab5"/>
<rect x="562" y="462" width="1" height="10" fill="rgb(0,128,0)"/>
<rect x="563" y="461" width="3" height="11" fill="#2e7ab5"/>
<rect x="564" y="462" width="1" height="10" fill="rgb(0,128,0)"/>
<rect x="566" y="461" width="2" height="11" fill="#2e7ab5"/>
<rect x="568" y="461" width="3" height="11" fill="#2e7ab5"/>
<rect x="569" y="462" width="1" height="10" fill="rgb(0,128,0)"/>
<rect x="570" y="461" width="3" height="11" fill="#2e7ab5"/>
<rect x="571" y="462" width="1" height="10" fill="rgb(0,128,0)"/>
<rect x="572" y="461" width="3" height="11" fill="#2e7ab5"/>
<rect x="573" y="462" width="1" height="10" fill="rgb(0,128,0)"/>
<rect x="574" y="461" width="3" height="11" fill="#2e7ab5"/>
<rect x="575" y="462" width="1" height="10" fill="rgb(0,128,0)"/>
<rect x="577" y="461" width="2" height="11" fill="#2e7ab5"/>
<rect x="579" y="461" width="3" height="11" fill="#2e7ab5"/>
<rect x="580" y="462" width="1" height="10" fill="rgb(0,128,0)"/>
<rect x="581" y="461" width="3" height="11" fill="#2e7ab5"/>
<rect x="582" y="462" width="1" height="10" fill="rgb(0,128,0)"/>
<rect x="583" y="437" width="3" height="35" fill="#2e7ab5"/>
<rect x="584" y="438" width="1" height="34" fill="rgb(255,0,0)"/>
<rect x="586" y="437" width="2" height="35" fill="#2e7ab5"/>
<rect x="588" y="437" width="3" height="35" fill="#2e7ab5"/>
<rect x="589" y="438" width="1" height="34" fill="rgb(255,0,0)"/>
<rect x="590" y="437" width="3" height="35" fill="#2e7ab5"/>
<rect x="591" y="438" width="1" height="34" fill="rgb(255,0,0)"/>
<rect x="592" y="437" width="3" height="35" fill="#2e7ab5"/>
<rect x="593" y="438" width="1" height="34" fill="rgb(255,0,0)"/>
<rect x="594" y="437" width="3" height="35" fill="#2e7ab5"/>
<rect x="595" y="438" width="1" height="34" fill="rgb(255,0,0)"/>
<rect x="597" y="437" width="2" height="35" fill="#2e7ab5"/>
<rect x="599" y="437" width="3" height="35" fill="#2e7ab5"/>
<rect x="600" y="438" width="1" height="34" fill="rgb(255,0,0)"/>
<rect x="601" y="437" width="3" height="35" fill="#2e7ab5"/>
<rect x="602" y="438" width="1" height="34" fill="rgb(255,0,0)"/>
<rect x="603" y="437" width="3" height="35" fill="#2e7ab5"/>
<rect x="604" y="438" width="1" height="34" fill="rgb(255,0,0)"/>
<rect x="606" y="437" width="2" height="35" fill="#2e7ab5"/>
<rect x="608" y="437" width="3" height="35" fill="#2e7ab5"/>
<rect x="609" y="438" width="1" height="34" fill="rgb(255,0,0)"/>
<rect x="610" y="437" width="3" height="35" fill="#2e7ab5"/>
<rect x="611" y="438" width="1" height="34" fill="rgb(255,0,0)"/>
<rect x="612" y="437" width="3" height="35" fill="#2e7ab5"/>
<rect x="613" y="438" width="1" height="34" fill="rgb(255,0,0)"/>
<rect x="614" y="437" width="3" height="35" fill="#2e7ab5"/>
<rect x="615" y="438" width="1" height="34" fill="rgb(255,0,0)"/>
<rect x="617" y="437" width="2" height="35" fill="#2e7ab5"/>
<rect x="619" y="431" width="3" height="41" fill="#2e7ab5"/>
<rect x="620" y="432" width="1" height="40" fill="rgb(0,128,0)"/>
<rect x="621" y="431" width="3" height="41" fill="#2e7ab5"/>
<rect x="622" y="432" width="1" height="40" fill="rgb(0,128,0)"/>
<rect x="623" y="431" width="3" height="41" fill="#2e7ab5"/>
<rect x="624" y="432" width="1" height="40" fill="rgb(0,128,0)"/>
<rect x="626" y="431" width="2" height="41" fill="#2e7ab5"/>
<rect x="628" y="431" width="3" height="41" fill="#2e7ab5"/>
<rect x="629" y="432" width="1" height="40" fill="rgb(0,128,0)"/>
<rect x="630" y="431" width="3" height="41" fill="#2e7ab5"/>
<rect x="631" y="432" width="1" height="40" fill="rgb(0,128,0)"/>
<rect x="632" y="431" width="3" height="41" fill="#2e7ab5"/>
<rect x="633" y="432" width="1" height="40" fill="rgb(0,128,0)"/>
<rect x="634" y="431" width="3" height="41" fill="#2e7ab5"/>
<rect x="635" y="432" width="1" height="40" fill="rgb(0,128,0)"/>
<rect x="637" y="431" width="3" height="41" fill="#2e7ab5"/>
<rect x="638" y="432" width="1" height="40" fill="rgb(0,128,0)"/>
<rect x="639" y="431" width="3" height="41" fill="#2e7ab5"/>
<rect x="640" y="432" width="1" height="40" fill="rgb(0,128,0)"/>
<rect x="641" y="431" width="3" height="41" fill="#2e7ab5"/>
<rect x="642" y="432" width="1" height="40" fill="rgb(0,128,0)"/>
<rect x="643" y="431" width="3" height="41" fill="#2e7ab5"/>
<rect x="644" y="432" width="1" height="40" fill="rgb(0,128,0)"/>
<rect x="646" y="431" width="2" height="41" fill="#2e7ab5"/>
<rect x="648" y="431" width="3" height="41" fill="#2e7ab5"/>
<rect x="649" y="432" width="1" height="40" fill="rgb(0,128,0)"/>
<rect x="650" y="431" width="3" height="41" fill="#2e7ab5"/>
<rect x="651" y="432" width="1" height="40" fill="rgb(0,128,0)"/>
<rect x="652" y="460" width="3" height="12" fill="#2e7ab5"/>
<rect x="653" y="461" width="1" height="11" fill="rgb(255,0,0)"/>
<rect x="654" y="460" width="3" height="12" fill="#2e7ab5"/>
<rect x="655" y="461" width="1" height="11" fill="rgb(255,0,0)"/>
<rect x="657" y="460" width="3" height="12" fill="#2e7ab5"/>
<rect x="658" y="461" width="1" height="11" fill="rgb(255,0,0)"/>
<rect x="659" y="460" width="3" height="12" fill="#2e7ab5"/>
<rect x="660" y="461" width="1" height="11" fill="rgb(255,0,0)"/>
<rect x="661" y="460" width="3" height="12" fill="#2e7ab5"/>
<rect x="662" y="461" width="1" height="11" fill="rgb(255,0,0)"/>
<rect x="663" y="460" width="3" height="12" fill="#2e7ab5"/>
<rect x="664" y="461" width="1" height="11" fill="rgb(255,0,0)"/>
<rect x="666" y="460" width="2" height="12" fill="#2e7ab5"/>
<rect x="668" y="460" width="3" height="12" fill="#2e7ab5"/>
<rect x="669" y="461" width="1" height="11" fill="rgb(255,0,0)"/>
<rect x="670" y="460" width="3" height="12" fill="#2e7ab5"/>
<rect x="671" y="461" width="1" height="11" fill="rgb(255,0,0)"/>
<rect x="672" y="460" width="3" height="12" fill="#2e7ab5"/>
<rect x="673" y="461" width="1" height="11" fill="rgb(255,0,0)"/>
<rect x="674" y="460" width="3" height="12" fill="#2e7ab5"/>
<rect x="675" y="461" width="1" height="11" fill="rgb(255,0,0)"/>
<rect x="677" y="460" width="3" height="12" fill="#2e7ab5"/>
<rect x="678" y="461" width="1" height="11" fill="rgb(255,0,0)"/>
<rect x="679" y="460" width="3" height="12" fill="#2e7ab5"/>
<rect x="680" y="461" width="1" height="11" fill="rgb(255,0,0)"/>
<rect x="681" y="460" width="3" height="12" fill="#2e7ab5"/>
<rect x="682" y="461" width="1" height="11" fill="rgb(255,0,0)"/>
<rect x="683" y="466" width="3" height="6" fill="#2e7ab5"/>
<rect x="684" y="467" width="1" height="5" fill="rgb(0,128,0)"/>
<rect x="686" y="466" width="2" height="6" fill="#2e7ab5"/>
<rect x="688" y="466" width="3" height="6" fill="#2e7ab5"/>
<rect x="689" y="467" width="1" height="5" fill="rgb(0,128,0)"/>
<rect x="690" y="466" width="3" height="6" fill="#2e7ab5"/>
<rect x="691" y="467" width="1" height="5" fill="rgb(0,128,0)"/>
<rect x="692" y="466" width="3" height="6" fill="#2e7ab5"/>
<rect x="693" y="467" width="1" height="5" fill="rgb(0,128,0)"/>
<rect x="694" y="466" width="3" height="6" fill="#2e7ab5"/>
<rect x="695" y="467" width="1" height="5" fill="rgb(0,128,0)"/>
<rect x="697" y="466" width="3" height="6" fill="#2e7ab5"/>
<rect x="698" y="467" width="1" height="5" fill="rgb(0,128,0)"/>
<rect x="699" y="466" width="3" height="6" fill="#2e7ab5"/>
<rect x="700" y="467" width="1" height="5" fill="rgb(0,128,0)"/>
<rect x="701" y="466" width="3" height="6" fill="#2e7ab5"/>
<rect x="702" y="467" width="1" height="5" fill="rgb(0,128,0)"/>
<rect x="703" y="466" width="3" height="6" fill="#2e7ab5"/>
<rect x="704" y="467" width="1" height="5" fill="rgb(0,128,0)"/>
<rect x="706" y="466" width="2" height="6" fill="#2e7ab5"/>
<rect x="708" y="466" width="3" height="6" fill="#2e7ab5"/>
<rect x="709" y="467" width="1" height="5" fill="rgb(0,128,0)"/>
<rect x="710" y="466" width="3" height="6" fill="#2e7ab5"/>
<rect x="711" y="467" width="1" height="5" fill="rgb(0,128,0)"/>
<rect x="712" y="416" width="3" height="56" fill="#2e7ab5"/>
<rect x="713" y="417" width="1" height="55" fill="rgb(0,128,0)"/>
<rect x="714" y="416" width="3" height="56" fill="#2e7ab5"/>
<rect x="715" y="417" width="1" height="55" fill="rgb(0,128,0)"/>
<rect x="717" y="416" width="3" height="56" fill="#2e7ab5"/>
<rect x="718" y="417" width="1" height="55" fill="rgb(0,128,0)"/>
<rect x="719" y="416" width="3" height="56" fill="#2e7ab5"/>
<rect x="720" y="417" width="1" height="55" fill="rgb(0,128,0)"/>
<rect x="721" y="416" width="3" height="56" fill="#2e7ab5"/>
<rect x="722" y="417" width="1" height="55" fill="rgb(0,128,0)"/>
<rect x="723" y="416" width="3" height="56" fill="#2e7ab5"/>
<rect x="724" y="417" width="1" height="55" fill="rgb(0,128,0)"/>
<rect x="726" y="416" width="2" height="56" fill="#2e7ab5"/>
<rect x="728" y="416" width="3" height="56" fill="#2e7ab5"/>
<rect x="729" y="417" width="1" height="55" fill="rgb(0,128,0)"/>
<rect x="730" y="416" width="3" height="56" fill="#2e7ab5"/>
<rect x="731" y="417" width="1" height="55" fill="rgb(0,128,0)"/>
<rect x="732" y="416" width="3" height="56" fill="#2e7ab5"/>
<rect x="733" y="417" width="1" height="55" fill="rgb(0,128,0)"/>
<rect x="734" y="416" width="3" height="56" fill="#2e7ab5"/>
<rect x="735" y="417" width="1" height="55" fill="rgb(0,128,0)"/>
<rect x="737" y="416" width="3" height="56" fill="#2e7ab5"/>
<rect x="738" y="417" width="1" height="55" fill="rgb(0,128,0)"/>
<rect x="739" y="377" width="3" height="95" fill="#2e7ab5"/>
<rect x="740" y="378" width="1" height="94" fill="rgb(0,128,0)"/>
<rect x="741" y="377" width="3" height="95" fill="#2e7ab5"/>
<rect x="742" y="378" width="1" height="94" fill="rgb(0,128,0)"/>
<rect x="743" y="377" width="3" height="95" fill="#2e7ab5"/>
<rect x="744" y="378" width="1" height="94" fill="rgb(0,128,0)"/>
<rect x="746" y="377" width="2" height="95" fill="#2e7ab5"/>
<rect x="748" y="377" width="3" height="95" fill="#2e7ab5"/>
<rect x="749" y="378" width="1" height="94" fill="rgb(0,128,0)"/>
<rect x="750" y="377" width="3" height="95" fill="#2e7ab5"/>
<rect x="751" y="378" width="1" height="94" fill="rgb(0,128,0)"/>
<rect x="752" y="377" width="3" height="95" fill="#2e7ab5"/>
<rect x="753" y="378" width="1" height="94" fill="rgb(0,128,0)"/>
<rect x="754" y="377" width="3" height="95" fill="#2e7ab5"/>
<rect x="755" y="378" width="1" height="94" fill="rgb(0,128,0)"/>
<rect x="757" y="377" width="3" height="95" fill="#2e7ab5"/>
<rect x="758" y="378" width="1" height="94" fill="rgb(0,128,0)"/>
<rect x="759" y="377" width="3" height="95" fill="#2e7ab5"/>
<rect x="760" y="378" width="1" height="94" fill="rgb(0,128,0)"/>
<rect x="761" y="377" width="3" height="95" fill="#2e7ab5"/>
<rect x="762" y="378" width="1" height="94" fill="rgb(0,128,0)"/>
<rect x="763" y="412" width="3" height="60" fill="#2e7ab5"/>
<rect x="764" y="413" width="1" height="59" fill="rgb(255,0,0)"/>
<rect x="766" y="412" width="2" height="60" fill="#2e7ab5"/>
<rect x="768" y="412" width="3" height="60" fill="#2e7ab5"/>
<rect x="769" y="413" width="1" height="59" fill="rgb(255,0,0)"/>
<rect x="770" y="412" width="3" height="60" fill="#2e7ab5"/>
<rect x="771" y="413" width="1" height="59" fill="rgb(255,0,0)"/>
<rect x="772" y="412" width="3" height="60" fill="#2e7ab5"/>
<rect x="773" y="413" width="1" height="59" fill="rgb(255,0,0)"/>
<rect x="774" y="412" width="3" height="60" fill="#2e7ab5"/>
<rect x="775" y="413" width="1" height="59" fill="rgb(255,0,0)"/>
<rect x="777" y="412" width="3" height="60" fill="#2e7ab5"/>
<rect x="778" y="413" width="1" height="59" fill="rgb(255,0,0)"/>
<rect x="779" y="412" width="3" height="60" fill="#2e7ab5"/>
<rect x="780" y="413" width="1" height="59" fill="rgb(255,0,0)"/>
<rect x="781" y="412" width="3" height="60" fill="#2e7ab5"/>
<rect x="782" y="413" width="1" height="59" fill="rgb(255,0,0)"/>
<rect x="783" y="412" width="3" height="60" fill="#2e7ab5"/>
<rect x="784" y="413" width="1" height="59" fill="rgb(255,0,0)"/>
<rect x="786" y="449" width="2" height="23" fill="#2e7ab5"/>
<rect x="788" y="449" width="3" height="23" fill="#2e7ab5"/>
<rect x="789" y="450" width="1" height="22" fill="rgb(0,128,0)"/>
<rect x="790" y="449" width="3" height="23" fill="#2e7ab5"/>
<rect x="791" y="450" width="1" height="22" fill="rgb(0,128,0)"/>
<rect x="792" y="449" width="3" height="23" fill="#2e7ab5"/>
<rect x="793" y="450" width="1" height="22" fill="rgb(0,128,0)"/>
<rect x="794" y="449" width="3" height="23" fill="#2e7ab5"/>
<rect x="795" y="450" width="1" height="22" fill="rgb(0,128,0)"/>
<rect x="797" y="449" width="3" height="23" fill="#2e7ab5"/>
<rect x="798" y="450" width="1" height="22" fill="rgb(0,128,0)"/>
<rect x="799" y="449" width="3" height="23" fill="#2e7ab5"/>
<rect x="800" y="450" width="1" height="22" fill="rgb(0,128,0)"/>
<rect x="801" y="449" width="3" height="23" fill="#2e7ab5"/>
<rect x="802" y="450" width="1" height="22" fill="rgb(0,128,0)"/>
<rect x="803" y="449" width="3" height="23" fill="#2e7ab5"/>
<rect x="804" y="450" width="1" height="22" fill="rgb(0,128,0)"/>
<rect x="806" y="456" width="2" height="16" fill="#2e7ab5"/>
<rect x="808" y="456" width="3" height="16" fill="#2e7ab5"/>
<rect x="809" y="457" width="1" height="15" fill="rgb(0,128,0)"/>
<rect x="810" y="456" width="3" height="16" fill="#2e7ab5"/>
<rect x="811" y="457" width="1" height="15" fill="rgb(0,128,0)"/>
<rect x="812" y="456" width="3" height="16" fill="#2e7ab5"/>
<rect x="813" y="457" width="1" height="15" fill="rgb(0,128,0)"/>
<rect x="815" y="456" width="2" height="16" fill="#2e7ab5"/>
<rect x="817" y="456" width="3" height="16" fill="#2e7ab5"/>
<rect x="818" y="457" width="1" height="15" fill="rgb(0,128,0)"/>
<rect x="819" y="456" width="3" height="16" fill="#2e7ab5"/>
<rect x="820" y="457" width="1" height="15" fill="rgb(0,128,0)"/>
<rect x="821" y="456" width="3" height="16" fill="#2e7ab5"/>
<rect x="822" y="457" width="1" height="15" fill="rgb(0,128,0)"/>
<rect x="823" y="438" width="3" height="34" fill="#2e7ab5"/>
<rect x="824" y="439" width="1" height="33" fill="rgb(255,0,0)"/>
<rect x="826" y="438" width="2" height="34" fill="#2e7ab5"/>
<rect x="828" y="438" width="3" height="34" fill="#2e7ab5"/>
<rect x="829" y="439" width="1" height="33" fill="rgb(255,0,0)"/>
<rect x="830" y="438" width="3" height="34" fill="#2e7ab5"/>
<rect x="831" y="439" width="1" height="33" fill="rgb(255,0,0)"/>
<rect x="832" y="438" width="3" height="34" fill="#2e7ab5"/>
<rect x="833" y="439" width="1" height="33" fill="rgb(255,0,0)"/>
<rect x="835" y="438" width="2" height="34" fill="#2e7ab5"/>
<rect x="837" y="438" width="3" height="34" fill="#2e7ab5"/>
<rect x="838" y="439" width="1" height="33" fill="rgb(255,0,0)"/>
<rect x="839" y="413" width="3" height="59" fill="#2e7ab5"/>
<rect x="840" y="414" width="1" height="58" fill="rgb(0,128,0)"/>
<rect x="841" y="413" width="3" height="59" fill="#2e7ab5"/>
<rect x="842" y="414" width="1" height="58" fill="rgb(0,128,0)"/>
<rect x="843" y="413" width="3" height="59" fill="#2e7ab5"/>
<rect x="844" y="414" width="1" height="58" fill="rgb(0,128,0)"/>
<rect x="846" y="413" width="2" height="59" fill="#2e7ab5"/>
<rect x="848" y="413" width="3" height="59" fill="#2e7ab5"/>
<rect x="849" y="414" width="1" height="58" fill="rgb(0,128,0)"/>
<rect x="850" y="413" width="3" height="59" fill="#2e7ab5"/>
<rect x="851" y="414" width="1" height="58" fill="rgb(0,128,0)"/>
<rect x="852" y="420" width="3" height="52" fill="#2e7ab5"/>
<rect x="853" y="421" width="1" height="51" fill="rgb(255,0,0)"/>
<rect x="855" y="420" width="2" height="52" fill="#2e7ab5"/>
<rect x="857" y="420" width="3" height="52" fill="#2e7ab5"/>
<rect x="858" y="421" width="1" height="51" fill="rgb(255,0,0)"/>
<rect x="859" y="420" width="3" height="52" fill="#2e7ab5"/>
<rect x="860" y="421" width="1" height="51" fill="rgb(255,0,0)"/>
<rect x="861" y="420" width="3" height="52" fill="#2e7ab5"/>
<rect x="862" y="421" width="1" height="51" fill="rgb(255,0,0)"/>
<rect x="863" y="444" width="3" height="28" fill="#2e7ab5"/>
<rect x="864" y="445" width="1" height="27" fill="rgb(0,128,0)"/>
<rect x="866" y="444" width="2" height="28" fill="#2e7ab5"/>
<rect x="868" y="444" width="3" height="28" fill="#2e7ab5"/>
<rect x="869" y="445" width="1" height="27" fill="rgb(0,128,0)"/>
<rect x="870" y="444" width="3" height="28" fill="#2e7ab5"/>
<rect x="871" y="445" width="1" height="27" fill="rgb(0,128,0)"/>
<rect x="872" y="410" width="3" height="62" fill="#2e7ab5"/>
<rect x="873" y="411" width="1" height="61" fill="rgb(0,128,0)"/>
<rect x="875" y="410" width="2" height="62" fill="#2e7ab5"/>
<rect x="877" y="410" width="3" height="62" fill="#2e7ab5"/>
<rect x="878" y="411" width="1" height="61" fill="rgb(0,128,0)"/>
<rect x="879" y="367" width="3" height="105" fill="#2e7ab5"/>
<rect x="880" y="368" width="1" height="104" fill="rgb(255,0,0)"/>
<rect x="881" y="367" width="3" height="105" fill="#2e7ab5"/>
<rect x="882" y="368" width="1" height="104" fill="rgb(255,0,0)"/>
<rect x="883" y="417" width="3" height="55" fill="#2e7ab5"/>
<rect x="884" y="418" width="1" height="54" fill="rgb(255,0,0)"/>
</g>
<polyline points="250.79,304.71 253.01,304.71 255.23,304.71 257.46,304.71 259.68,304.71 261.90,304.71 264.13,304.71 266.35,304.71 268.57,304.71 270.79,304.71 273.02,305.79 275.24,306.86 277.46,307.94 279.69,309.01 281.91,310.09 284.13,311.17 286.36,312.24 288.58,313.32 290.80,314.39 293.02,315.47 295.25,316.54 297.47,317.62 299.69,318.69 301.92,319.77 304.14,320.85 306.36,320.85 308.59,320.85 310.81,320.85 313.03,320.85 315.25,320.85 317.48,320.85 319.70,320.85 321.92,320.85 324.15,321.71 326.37,322.57 328.59,323.43 330.82,324.29 333.04,325.15 335.26,326.01 337.48,326.87 339.71,327.73 341.93,328.59 344.15,329.45 346.38,330.31 348.60,331.17 350.82,332.03 353.04,332.89 355.27,333.75 357.49,333.75 359.71,333.75 361.94,333.75 364.16,333.75 366.38,333.75 368.61,333.75 370.83,333.75 373.05,332.68 375.27,331.60 377.50,330.53 379.72,329.45 381.94,328.37 384.17,327.30 386.39,326.22 388.61,325.15 390.84,324.07 393.06,323.00 395.28,321.92 397.50,320.85 399.73,319.77 401.95,318.69 404.17,317.62 406.40,317.62 408.62,317.62 410.84,317.62 413.06,317.62 415.29,317.62 417.51,317.62 419.73,317.19 421.96,316.76 424.18,316.33 426.40,315.90 428.63,315.47 430.85,315.04 433.07,314.61 435.29,314.18 437.52,313.75 439.74,313.32 441.96,312.89 444.19,312.46 446.41,312.03 448.63,311.60 450.86,311.17 453.08,311.17 455.30,311.17 457.52,311.17 459.75,311.17 461.97,311.17 464.19,309.87 466.42,308.58 468.64,307.29 470.86,306.00 473.09,304.71 475.31,303.42 477.53,302.13 479.75,300.84 481.98,299.55 484.20,298.26 486.42,296.97 488.65,295.68 490.87,294.39 493.09,293.10 495.31,291.80 497.54,291.80 499.76,291.80 501.98,291.80 504.21,291.80 506.43,290.94 508.65,290.08 510.88,289.22 513.10,288.36 515.32,287.50 517.54,286.64 519.77,285.78 521.99,284.92 524.21,284.06 526.44,283.20 528.66,282.34 530.88,281.48 533.11,280.62 535.33,279.76 537.55,278.90 539.77,278.90 542.00,278.90 544.22,278.90 546.44,278.25 548.67,277.61 550.89,276.96 553.11,276.32 555.33,275.67 557.56,275.03 559.78,274.38 562.00,273.74 564.23,273.09 566.45,272.44 568.67,271.80 570.90,271.15 573.12,270.51 575.34,269.86 577.56,269.22 579.79,269.22 582.01,269.22 584.23,269.43 586.46,269.65 588.68,269.86 590.90,270.08 593.13,270.29 595.35,270.51 597.57,270.72 599.79,270.94 602.02,271.15 604.24,271.37 606.46,271.58 608.69,271.80 610.91,272.01 613.13,272.23 615.36,272.44 617.58,272.44 619.80,272.44 622.02,272.44 624.25,272.44 626.47,272.44 628.69,272.44 630.92,272.44 633.14,272.44 635.36,272.44 637.58,272.44 639.81,272.44 642.03,272.44 644.25,272.44 646.48,272.44 648.70,272.44 650.92,272.44 653.15,273.09 655.37,273.74 657.59,274.38 659.81,275.03 662.04,275.67 664.26,276.32 666.48,276.96 668.71,277.61 670.93,278.25 673.15,278.90 675.38,279.54 677.60,280.19 679.82,280.83 682.04,281.48 684.27,281.91 686.49,281.69 688.71,281.48 690.94,281.26 693.16,281.05 695.38,280.83 697.60,280.62 699.83,280.40 702.05,280.19 704.27,279.97 706.50,279.76 708.72,279.54 710.94,279.33 713.17,277.18 715.39,275.03 717.61,273.09 719.83,271.15 722.06,269.22 724.28,267.28 726.50,265.35 728.73,263.41 730.95,261.47 733.17,259.54 735.40,257.60 737.62,255.67 739.84,250.72 742.06,245.77 744.29,240.82 746.51,237.81 748.73,234.80 750.96,231.79 753.18,228.78 755.40,225.76 757.62,222.75 759.85,219.74 762.07,216.73 764.29,213.07 766.52,209.42 768.74,205.76 770.96,202.10 773.19,201.46 775.41,200.81 777.63,200.17 779.85,199.52 782.08,198.88 784.30,198.23 786.52,197.80 788.75,197.37 790.97,196.94 793.19,196.51 795.42,196.08 797.64,196.29 799.86,196.51 802.08,196.72 804.31,196.94 806.53,196.29 808.75,195.65 810.98,195.00 813.20,194.36 815.42,193.71 817.65,193.07 819.87,192.21 822.09,191.35 824.31,190.06 826.54,188.76 828.76,187.47 830.98,186.18 833.21,184.89 835.43,183.60 837.65,182.31 839.87,179.95 842.10,177.58 844.32,175.21 846.54,172.85 848.77,170.48 850.99,168.11 853.21,166.18 855.44,164.24 857.66,162.74 859.88,161.23 862.10,159.72 864.33,157.36 866.55,154.99 868.77,152.63 871.00,150.26 873.22,148.11 875.44,145.96 877.67,143.81 879.89,140.58 882.11,137.35 884.33,135.63" fill="none" stroke="#0000ff" stroke-width="1.15" stroke-linejoin="round" stroke-linecap="square"/>
<polyline points="284.13,307.94 286.36,308.48 288.58,309.01 290.80,309.55 293.02,310.09 295.25,310.63 297.47,311.17 299.69,311.70 301.92,312.24 304.14,312.78 306.36,313.32 308.59,313.85 310.81,314.39 313.03,314.93 315.25,315.47 317.48,316.01 319.70,316.54 321.92,317.08 324.15,318.05 326.37,319.02 328.59,319.98 330.82,320.95 333.04,321.92 335.26,322.89 337.48,323.86 339.71,324.29 341.93,324.72 344.15,325.15 346.38,325.58 348.60,326.01 350.82,326.44 353.04,326.87 355.27,327.30 357.49,327.73 359.71,328.16 361.94,328.59 364.16,329.02 366.38,329.45 368.61,329.88 370.83,330.31 373.05,330.20 375.27,330.10 377.50,329.99 379.72,329.88 381.94,329.77 384.17,329.66 386.39,329.56 388.61,329.45 390.84,328.91 393.06,328.37 395.28,327.84 397.50,327.30 399.73,326.76 401.95,326.22 404.17,325.69 406.40,325.15 408.62,324.61 410.84,324.07 413.06,323.53 415.29,323.00 417.51,322.46 419.73,321.71 421.96,320.95 424.18,320.20 426.40,319.45 428.63,318.69 430.85,317.94 433.07,317.19 435.29,316.44 437.52,315.68 439.74,315.47 441.96,315.25 444.19,315.04 446.41,314.82 448.63,314.61 450.86,314.39 453.08,314.18 455.30,313.96 457.52,313.75 459.75,313.53 461.97,313.32 464.19,312.46 466.42,311.60 468.64,310.73 470.86,309.87 473.09,309.01 475.31,308.15 477.53,307.29 479.75,306.43 481.98,305.57 484.20,304.71 486.42,304.07 488.65,303.42 490.87,302.78 493.09,302.13 495.31,301.48 497.54,300.84 499.76,300.19 501.98,299.55 504.21,298.90 506.43,297.83 508.65,296.75 510.88,295.68 513.10,294.60 515.32,293.53 517.54,292.45 519.77,291.37 521.99,290.30 524.21,289.22 526.44,288.15 528.66,287.07 530.88,286.64 533.11,286.21 535.33,285.78 537.55,285.35 539.77,284.92 542.00,284.49 544.22,284.06 546.44,283.31 548.67,282.55 550.89,281.80 553.11,281.05 555.33,280.30 557.56,279.54 559.78,278.79 562.00,278.04 564.23,277.28 566.45,276.53 568.67,275.78 570.90,275.03 573.12,274.70 575.34,274.38 577.56,274.06 579.79,273.74 582.01,273.41 584.23,273.20 586.46,272.98 588.68,272.77 590.90,272.55 593.13,272.34 595.35,272.12 597.57,271.91 599.79,271.69 602.02,271.48 604.24,271.26 606.46,271.05 608.69,270.83 610.91,270.62 613.13,270.72 615.36,270.83 617.58,270.94 619.80,271.05 622.02,271.15 624.25,271.26 626.47,271.37 628.69,271.48 630.92,271.58 633.14,271.69 635.36,271.80 637.58,271.91 639.81,272.01 642.03,272.12 644.25,272.23 646.48,272.34 648.70,272.44 650.92,272.44 653.15,272.77 655.37,273.09 657.59,273.41 659.81,273.74 662.04,274.06 664.26,274.38 666.48,274.70 668.71,275.03 670.93,275.35 673.15,275.67 675.38,275.99 677.60,276.32 679.82,276.64 682.04,276.96 684.27,277.18 686.49,277.39 688.71,277.61 690.94,277.82 693.16,278.04 695.38,278.25 697.60,278.47 699.83,278.68 702.05,278.90 704.27,279.11 706.50,279.33 708.72,279.54 710.94,279.76 713.17,279.01 715.39,278.25 717.61,277.50 719.83,276.42 722.06,275.35 724.28,274.27 726.50,273.20 728.73,272.12 730.95,271.05 733.17,269.97 735.40,268.90 737.62,267.82 739.84,265.24 742.06,262.66 744.29,260.08 746.51,257.49 748.73,254.91 750.96,252.44 753.18,249.97 755.40,247.49 757.62,245.02 759.85,242.54 762.07,240.07 764.29,237.27 766.52,234.48 768.74,231.68 770.96,228.88 773.19,226.09 775.41,223.29 777.63,220.49 779.85,218.67 782.08,216.84 784.30,215.01 786.52,213.29 788.75,211.57 790.97,209.85 793.19,208.13 795.42,206.40 797.64,204.68 799.86,202.96 802.08,201.24 804.31,199.52 806.53,198.88 808.75,198.23 810.98,197.58 813.20,196.94 815.42,196.29 817.65,195.65 819.87,195.00 822.09,194.36 824.31,193.50 826.54,192.64 828.76,191.78 830.98,191.24 833.21,190.70 835.43,190.16 837.65,189.63 839.87,188.12 842.10,186.61 844.32,185.11 846.54,183.60 848.77,182.10 850.99,180.59 853.21,179.19 855.44,177.79 857.66,176.40 859.88,175.00 862.10,173.60 864.33,171.77 866.55,169.94 868.77,168.11 871.00,166.29 873.22,164.03 875.44,161.77 877.67,159.51 879.89,156.71 882.11,153.92 884.33,151.87" fill="none" stroke="#ffa500" stroke-width="1.15" stroke-linejoin="round" stroke-linecap="square"/>
<polyline points="350.82,317.19 353.04,317.67 355.27,318.16 357.49,318.64 359.71,319.12 361.94,319.61 364.16,320.09 366.38,320.58 368.61,321.06 370.83,321.54 373.05,321.76 375.27,321.97 377.50,322.19 379.72,322.40 381.94,322.62 384.17,322.84 386.39,323.05 388.61,323.27 390.84,323.48 393.06,323.70 395.28,323.91 397.50,324.13 399.73,324.34 401.95,324.56 404.17,324.77 406.40,324.72 408.62,324.66 410.84,324.61 413.06,324.56 415.29,324.50 417.51,324.45 419.73,324.29 421.96,324.13 424.18,323.96 426.40,323.80 428.63,323.64 430.85,323.48 433.07,323.32 435.29,323.16 437.52,323.00 439.74,322.84 441.96,322.67 444.19,322.51 446.41,322.35 448.63,322.19 450.86,322.03 453.08,321.87 455.30,321.71 457.52,321.33 459.75,320.95 461.97,320.58 464.19,319.88 466.42,319.18 468.64,318.48 470.86,317.78 473.09,317.08 475.31,316.38 477.53,315.68 479.75,314.98 481.98,314.28 484.20,313.59 486.42,312.89 488.65,312.19 490.87,311.49 493.09,310.79 495.31,310.09 497.54,309.39 499.76,308.69 501.98,307.99 504.21,307.29 506.43,306.65 508.65,306.00 510.88,305.36 513.10,304.71 515.32,304.07 517.54,303.42 519.77,302.78 521.99,302.13 524.21,301.48 526.44,300.84 528.66,300.19 530.88,299.55 533.11,298.90 535.33,298.26 537.55,297.61 539.77,296.97 542.00,296.32 544.22,295.68 546.44,294.87 548.67,294.06 550.89,293.26 553.11,292.56 555.33,291.86 557.56,291.16 559.78,290.46 562.00,289.76 564.23,289.06 566.45,288.36 568.67,287.66 570.90,286.96 573.12,286.27 575.34,285.57 577.56,284.87 579.79,284.17 582.01,283.47 584.23,282.82 586.46,282.18 588.68,281.53 590.90,280.89 593.13,280.24 595.35,279.60 597.57,279.27 599.79,278.95 602.02,278.63 604.24,278.31 606.46,277.98 608.69,277.66 610.91,277.34 613.13,277.02 615.36,276.69 617.58,276.37 619.80,276.05 622.02,275.72 624.25,275.40 626.47,275.08 628.69,274.76 630.92,274.43 633.14,274.11 635.36,273.79 637.58,273.47 639.81,273.36 642.03,273.25 644.25,273.14 646.48,273.04 648.70,272.93 650.92,272.82 653.15,272.87 655.37,272.93 657.59,272.98 659.81,273.04 662.04,273.09 664.26,273.14 666.48,273.20 668.71,273.25 670.93,273.30 673.15,273.36 675.38,273.41 677.60,273.47 679.82,273.68 682.04,273.90 684.27,274.06 686.49,274.22 688.71,274.38 690.94,274.54 693.16,274.70 695.38,274.86 697.60,275.03 699.83,275.19 702.05,275.35 704.27,275.51 706.50,275.67 708.72,275.83 710.94,275.99 713.17,275.67 715.39,275.35 717.61,274.97 719.83,274.60 722.06,274.22 724.28,273.84 726.50,273.47 728.73,273.09 730.95,272.71 733.17,272.34 735.40,271.96 737.62,271.58 739.84,270.45 742.06,269.33 744.29,268.20 746.51,267.07 748.73,265.94 750.96,264.81 753.18,263.68 755.40,262.55 757.62,261.42 759.85,260.29 762.07,259.16 764.29,257.87 766.52,256.58 768.74,255.29 770.96,254.00 773.19,252.71 775.41,251.42 777.63,250.13 779.85,248.84 782.08,247.54 784.30,246.25 786.52,244.86 788.75,243.46 790.97,242.06 793.19,240.66 795.42,239.26 797.64,237.86 799.86,236.47 802.08,235.07 804.31,233.67 806.53,232.06 808.75,230.44 810.98,228.83 813.20,227.22 815.42,225.60 817.65,224.04 819.87,222.48 822.09,220.92 824.31,219.26 826.54,217.59 828.76,215.92 830.98,214.26 833.21,212.59 835.43,210.92 837.65,209.25 839.87,207.10 842.10,204.95 844.32,202.80 846.54,201.13 848.77,199.47 850.99,197.80 853.21,196.24 855.44,194.68 857.66,193.12 859.88,191.56 862.10,190.00 864.33,188.23 866.55,186.45 868.77,184.68 871.00,182.90 873.22,181.45 875.44,180.00 877.67,178.55 879.89,176.83 882.11,175.11 884.33,173.76" fill="none" stroke="#800080" stroke-width="1.15" stroke-linejoin="round" stroke-linecap="square"/>
<g stroke="#000" stroke-width="1.11" fill="none">
<rect x="184.5" y="69.5" width="736" height="288"/>
<rect x="184.5" y="357.5" width="736" height="115"/>
<line x1="179.3" x2="184.5" y1="92.5" y2="92.5"/>
<line x1="179.3" x2="184.5" y1="130.5" y2="130.5"/>
<line x1="179.3" x2="184.5" y1="169.5" y2="169.5"/>
<line x1="179.3" x2="184.5" y1="208.5" y2="208.5"/>
<line x1="179.3" x2="184.5" y1="247.5" y2="247.5"/>
<line x1="179.3" x2="184.5" y1="285.5" y2="285.5"/>
<line x1="179.3" x2="184.5" y1="324.5" y2="324.5"/>
<line x1="179.3" x2="184.5" y1="361.5" y2="361.5"/>
<line x1="179.3" x2="184.5" y1="417.5" y2="417.5"/>
<line x1="220.5" x2="220.5" y1="472.5" y2="477.2"/>
<line x1="331.5" x2="331.5" y1="472.5" y2="477.2"/>
<line x1="442.5" x2="442.5" y1="472.5" y2="477.2"/>
<line x1="553.5" x2="553.5" y1="472.5" y2="477.2"/>
<line x1="664.5" x2="664.5" y1="472.5" y2="477.2"/>
<line x1="775.5" x2="775.5" y1="472.5" y2="477.2"/>
<line x1="887.5" x2="887.5" y1="472.5" y2="477.2"/>
</g>
<g fill="#000" stroke="none" font-family="'Liberation Sans', sans-serif" font-size="13.9">
<text x="510.6" y="15.7" text-anchor="middle" font-size="16.7">N225MC 12-Minute Chart (2025-12-02 18:00~19:00) - MA on HLC/3</text>
<text x="173.1" y="97" text-anchor="end">49600</text>
<text x="173.1" y="136" text-anchor="end">49580</text>
<text x="173.1" y="174" text-anchor="end">49560</text>
<text x="173.1" y="213" text-anchor="end">49540</text>
<text x="173.1" y="252" text-anchor="end">49520</text>
<text x="173.1" y="290" text-anchor="end">49500</text>
<text x="173.1" y="329" text-anchor="end">49480</text>
<text x="173.1" y="366" text-anchor="end">2000</text>
<text x="173.1" y="423" text-anchor="end">1000</text>
<text transform="translate(218.9,500.6) rotate(-45)" x="0" y="4.9" text-anchor="middle">18:51</text>
<text transform="translate(329.9,500.6) rotate(-45)" x="0" y="4.9" text-anchor="middle">18:57</text>
<text transform="translate(440.9,500.6) rotate(-45)" x="0" y="4.9" text-anchor="middle">19:03</text>
<text transform="translate(551.9,500.6) rotate(-45)" x="0" y="4.9" text-anchor="middle">19:12</text>
<text transform="translate(662.9,500.6) rotate(-45)" x="0" y="4.9" text-anchor="middle">19:21</text>
<text transform="translate(774.6,500.6) rotate(-45)" x="0" y="4.9" text-anchor="middle">19:33</text>
<text transform="translate(117,215.2) rotate(-90)" x="0" y="5" text-anchor="middle">Price</text>
<text transform="translate(124.85,415.8) rotate(-90)" x="0" y="5" text-anchor="middle">Volume</text>
</g>
</svg></body></html>
